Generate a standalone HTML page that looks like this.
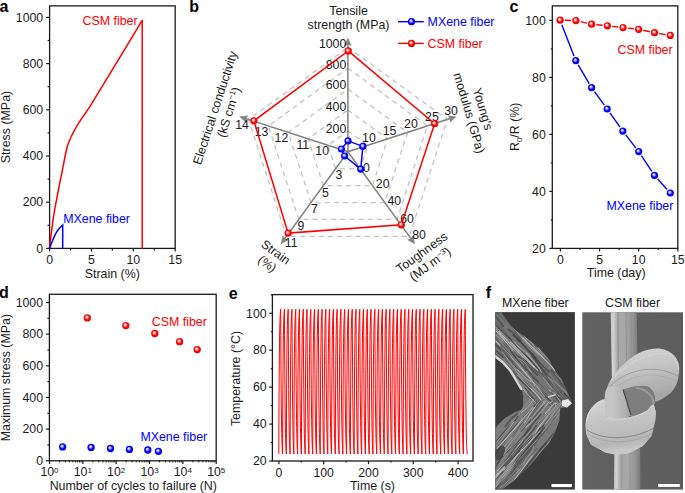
<!DOCTYPE html>
<html><head><meta charset="utf-8"><style>
html,body{margin:0;padding:0;background:#fff;}
svg{display:block;font-family:"Liberation Sans",sans-serif;}
</style></head><body>
<svg width="685" height="493" viewBox="0 0 685 493">
<defs>
<radialGradient id="gr" cx="0.5" cy="0.5" r="0.5" fx="0.38" fy="0.34">
<stop offset="0" stop-color="#ffffff"/><stop offset="0.3" stop-color="#ffbcbc"/><stop offset="0.6" stop-color="#ff0a0a"/><stop offset="0.9" stop-color="#f40000"/><stop offset="1" stop-color="#e00000"/></radialGradient>
<radialGradient id="gb" cx="0.5" cy="0.5" r="0.5" fx="0.38" fy="0.34">
<stop offset="0" stop-color="#f6f6ff"/><stop offset="0.3" stop-color="#b4b4ff"/><stop offset="0.6" stop-color="#0a0aff"/><stop offset="0.9" stop-color="#0000f4"/><stop offset="1" stop-color="#0000d0"/></radialGradient>
</defs>
<text x="-0.6" y="11.5" font-size="16" font-weight="bold" fill="#000">a</text>
<rect x="49.60" y="5.90" width="125.60" height="242.50" fill="none" stroke="#1a1a1a" stroke-width="1.3"/>
<line x1="46.10" y1="248.40" x2="49.60" y2="248.40" stroke="#1a1a1a" stroke-width="1.2" />
<text x="43.20" y="252.60" font-size="12.3" text-anchor="end" fill="#1a1a1a" >0</text>
<line x1="47.60" y1="225.30" x2="49.60" y2="225.30" stroke="#1a1a1a" stroke-width="1.2" />
<line x1="46.10" y1="202.20" x2="49.60" y2="202.20" stroke="#1a1a1a" stroke-width="1.2" />
<text x="43.20" y="206.40" font-size="12.3" text-anchor="end" fill="#1a1a1a" >200</text>
<line x1="47.60" y1="179.10" x2="49.60" y2="179.10" stroke="#1a1a1a" stroke-width="1.2" />
<line x1="46.10" y1="156.00" x2="49.60" y2="156.00" stroke="#1a1a1a" stroke-width="1.2" />
<text x="43.20" y="160.20" font-size="12.3" text-anchor="end" fill="#1a1a1a" >400</text>
<line x1="47.60" y1="132.90" x2="49.60" y2="132.90" stroke="#1a1a1a" stroke-width="1.2" />
<line x1="46.10" y1="109.80" x2="49.60" y2="109.80" stroke="#1a1a1a" stroke-width="1.2" />
<text x="43.20" y="114.00" font-size="12.3" text-anchor="end" fill="#1a1a1a" >600</text>
<line x1="47.60" y1="86.70" x2="49.60" y2="86.70" stroke="#1a1a1a" stroke-width="1.2" />
<line x1="46.10" y1="63.60" x2="49.60" y2="63.60" stroke="#1a1a1a" stroke-width="1.2" />
<text x="43.20" y="67.80" font-size="12.3" text-anchor="end" fill="#1a1a1a" >800</text>
<line x1="47.60" y1="40.50" x2="49.60" y2="40.50" stroke="#1a1a1a" stroke-width="1.2" />
<line x1="46.10" y1="17.40" x2="49.60" y2="17.40" stroke="#1a1a1a" stroke-width="1.2" />
<text x="43.20" y="21.60" font-size="12.3" text-anchor="end" fill="#1a1a1a" >1000</text>
<line x1="49.60" y1="248.40" x2="49.60" y2="251.60" stroke="#1a1a1a" stroke-width="1.2" />
<text x="49.60" y="263.60" font-size="12.3" text-anchor="middle" fill="#1a1a1a" >0</text>
<line x1="70.53" y1="248.40" x2="70.53" y2="250.40" stroke="#1a1a1a" stroke-width="1.2" />
<line x1="91.47" y1="248.40" x2="91.47" y2="251.60" stroke="#1a1a1a" stroke-width="1.2" />
<text x="91.47" y="263.60" font-size="12.3" text-anchor="middle" fill="#1a1a1a" >5</text>
<line x1="112.40" y1="248.40" x2="112.40" y2="250.40" stroke="#1a1a1a" stroke-width="1.2" />
<line x1="133.33" y1="248.40" x2="133.33" y2="251.60" stroke="#1a1a1a" stroke-width="1.2" />
<text x="133.33" y="263.60" font-size="12.3" text-anchor="middle" fill="#1a1a1a" >10</text>
<line x1="154.27" y1="248.40" x2="154.27" y2="250.40" stroke="#1a1a1a" stroke-width="1.2" />
<line x1="175.20" y1="248.40" x2="175.20" y2="251.60" stroke="#1a1a1a" stroke-width="1.2" />
<text x="175.20" y="263.60" font-size="12.3" text-anchor="middle" fill="#1a1a1a" >15</text>
<text x="112.30" y="277.90" font-size="12.4" text-anchor="middle" fill="#1a1a1a" >Strain (%)</text>
<text transform="translate(10.4,127) rotate(-90)" font-size="12.4" text-anchor="middle" fill="#1a1a1a">Stress (MPa)</text>
<path d="M49.50,248.40 C49.78,246.00 50.60,238.80 51.20,234.00 C51.80,229.20 52.43,224.13 53.10,219.60 C53.77,215.07 54.48,210.82 55.20,206.80 C55.92,202.78 56.68,199.28 57.40,195.50 C58.12,191.72 58.80,187.67 59.50,184.10 C60.20,180.53 60.90,177.57 61.60,174.10 C62.30,170.63 62.90,167.32 63.70,163.30 C64.50,159.28 65.60,153.37 66.40,150.00 C67.20,146.63 67.78,145.15 68.50,143.10 C69.22,141.05 69.93,139.42 70.70,137.70 C71.47,135.98 72.25,134.43 73.10,132.80 C73.95,131.17 74.93,129.42 75.80,127.90 C76.67,126.38 77.50,124.98 78.30,123.70 C79.10,122.42 79.58,121.72 80.60,120.20 C81.62,118.68 82.98,116.67 84.40,114.60 C85.82,112.53 87.58,110.13 89.10,107.80 C90.62,105.47 88.68,108.50 93.50,100.60 C98.32,92.70 109.88,73.78 118.00,60.40 C126.12,47.02 138.17,26.98 142.20,20.30 L142.2,248.4" fill="none" stroke="#ff0000" stroke-width="1.5" stroke-linejoin="round"/>
<path d="M49.60,248.40 C50.08,247.12 51.48,243.17 52.50,240.70 C53.52,238.23 54.62,235.60 55.70,233.60 C56.78,231.60 57.83,230.12 59.00,228.70 C60.17,227.28 62.08,225.70 62.70,225.10 L62.7,248.4" fill="none" stroke="#0000ff" stroke-width="1.5"/>
<text x="82.50" y="25.20" font-size="12.4" text-anchor="start" fill="#ff0000" >CSM fiber</text>
<text x="63.20" y="222.60" font-size="12.4" text-anchor="start" fill="#0000ff" >MXene fiber</text>
<text x="189.2" y="11.5" font-size="16" font-weight="bold" fill="#000">b</text>
<polygon points="347.90,130.90 367.78,145.34 360.18,168.71 335.62,168.71 328.02,145.34" fill="none" stroke="#c2c2c2" stroke-width="1.3" stroke-dasharray="5,4.2"/>
<polygon points="347.90,110.00 387.65,138.88 372.47,185.62 323.33,185.62 308.15,138.88" fill="none" stroke="#c2c2c2" stroke-width="1.3" stroke-dasharray="5,4.2"/>
<polygon points="347.90,89.10 407.53,132.42 384.75,202.53 311.05,202.53 288.27,132.42" fill="none" stroke="#c2c2c2" stroke-width="1.3" stroke-dasharray="5,4.2"/>
<polygon points="347.90,68.20 427.41,125.97 397.04,219.43 298.76,219.43 268.39,125.97" fill="none" stroke="#c2c2c2" stroke-width="1.3" stroke-dasharray="5,4.2"/>
<polygon points="347.90,47.30 447.29,119.51 409.32,236.34 286.48,236.34 248.51,119.51" fill="none" stroke="#c2c2c2" stroke-width="1.3" stroke-dasharray="5,4.2"/>
<line x1="347.90" y1="151.80" x2="347.90" y2="41.03" stroke="#808080" stroke-width="1.5" />
<polygon points="347.90,37.58 351.70,45.88 347.90,44.68 344.10,45.88" fill="#858585"/>
<line x1="347.90" y1="151.80" x2="453.25" y2="117.57" stroke="#808080" stroke-width="1.5" />
<polygon points="456.53,116.50 449.81,122.68 449.78,118.70 447.46,115.46" fill="#858585"/>
<line x1="347.90" y1="151.80" x2="413.01" y2="241.41" stroke="#808080" stroke-width="1.5" />
<polygon points="415.04,244.20 407.08,239.72 410.86,238.46 413.23,235.26" fill="#858585"/>
<line x1="347.90" y1="151.80" x2="282.79" y2="241.41" stroke="#808080" stroke-width="1.5" />
<polygon points="280.76,244.20 282.57,235.26 284.94,238.46 288.72,239.72" fill="#858585"/>
<line x1="347.90" y1="151.80" x2="242.55" y2="117.57" stroke="#808080" stroke-width="1.5" />
<polygon points="239.27,116.50 248.34,115.46 246.02,118.70 245.99,122.68" fill="#858585"/>
<text x="346.30" y="48.10" font-size="12.3" text-anchor="end" fill="#1a1a1a" >1000</text>
<text x="346.30" y="68.50" font-size="12.3" text-anchor="end" fill="#1a1a1a" >800</text>
<text x="346.30" y="89.30" font-size="12.3" text-anchor="end" fill="#1a1a1a" >600</text>
<text x="346.30" y="111.00" font-size="12.3" text-anchor="end" fill="#1a1a1a" >400</text>
<text x="346.30" y="132.60" font-size="12.3" text-anchor="end" fill="#1a1a1a" >200</text>
<text x="368.90" y="141.80" font-size="12.3" text-anchor="middle" fill="#1a1a1a" >10</text>
<text x="389.50" y="135.20" font-size="12.3" text-anchor="middle" fill="#1a1a1a" >15</text>
<text x="410.90" y="128.00" font-size="12.3" text-anchor="middle" fill="#1a1a1a" >20</text>
<text x="431.90" y="121.40" font-size="12.3" text-anchor="middle" fill="#1a1a1a" >25</text>
<text x="451.00" y="115.40" font-size="12.3" text-anchor="middle" fill="#1a1a1a" >30</text>
<text x="366.40" y="171.70" font-size="12.3" text-anchor="middle" fill="#1a1a1a" >0</text>
<text x="382.70" y="188.10" font-size="12.3" text-anchor="middle" fill="#1a1a1a" >20</text>
<text x="394.30" y="205.20" font-size="12.3" text-anchor="middle" fill="#1a1a1a" >40</text>
<text x="407.10" y="222.90" font-size="12.3" text-anchor="middle" fill="#1a1a1a" >60</text>
<text x="419.00" y="238.60" font-size="12.3" text-anchor="middle" fill="#1a1a1a" >80</text>
<text x="339.00" y="179.20" font-size="12.3" text-anchor="middle" fill="#1a1a1a" >3</text>
<text x="325.50" y="196.80" font-size="12.3" text-anchor="middle" fill="#1a1a1a" >5</text>
<text x="314.30" y="213.20" font-size="12.3" text-anchor="middle" fill="#1a1a1a" >7</text>
<text x="301.00" y="229.80" font-size="12.3" text-anchor="middle" fill="#1a1a1a" >9</text>
<text x="291.20" y="247.20" font-size="12.3" text-anchor="middle" fill="#1a1a1a" >11</text>
<text x="322.20" y="155.40" font-size="12.3" text-anchor="middle" fill="#1a1a1a" >10</text>
<text x="302.80" y="148.60" font-size="12.3" text-anchor="middle" fill="#1a1a1a" >11</text>
<text x="281.40" y="142.00" font-size="12.3" text-anchor="middle" fill="#1a1a1a" >12</text>
<text x="261.50" y="135.50" font-size="12.3" text-anchor="middle" fill="#1a1a1a" >13</text>
<text x="242.00" y="128.70" font-size="12.3" text-anchor="middle" fill="#1a1a1a" >14</text>
<text x="348.50" y="14.90" font-size="12.4" text-anchor="middle" fill="#1a1a1a" >Tensile</text>
<text x="348.50" y="29.20" font-size="12.4" text-anchor="middle" fill="#1a1a1a" >strength (MPa)</text>
<g transform="translate(476,111) rotate(73.5)" font-size="12.4" fill="#1a1a1a" text-anchor="middle"><text x="0" y="-3">Young's</text><text x="0" y="11.3">modulus (GPa)</text></g>
<g transform="translate(222,110) rotate(-72)" font-size="12.4" fill="#1a1a1a" text-anchor="middle"><text x="0" y="-3">Electrical conductivity</text><text x="0" y="11.3">(kS cm<tspan font-size="8" dy="-4">&#8722;1</tspan><tspan dy="4">)</tspan></text></g>
<g transform="translate(426,258.3) rotate(-36)" font-size="12.4" fill="#1a1a1a" text-anchor="middle"><text x="0" y="-3">Toughness</text><text x="0" y="11.3">(MJ m<tspan font-size="8" dy="-4">&#8722;3</tspan><tspan dy="4">)</tspan></text></g>
<g transform="translate(271.5,258) rotate(36)" font-size="12.4" fill="#1a1a1a" text-anchor="middle"><text x="0" y="-3">Strain</text><text x="0" y="11.3">(%)</text></g>
<polygon points="348.2,50.9 434.6,123.7 401.3,224.8 288.1,233.1 253.9,120.8" fill="none" stroke="#ff0000" stroke-width="1.5"/>
<polygon points="348,140.9 362.9,146.4 360.7,169.1 344.6,156 341.4,149" fill="none" stroke="#0000ff" stroke-width="1.5"/>
<circle cx="348.20" cy="50.90" r="3.6" fill="url(#gr)"/>
<circle cx="434.60" cy="123.70" r="3.6" fill="url(#gr)"/>
<circle cx="401.30" cy="224.80" r="3.6" fill="url(#gr)"/>
<circle cx="288.10" cy="233.10" r="3.6" fill="url(#gr)"/>
<circle cx="253.90" cy="120.80" r="3.6" fill="url(#gr)"/>
<circle cx="348.00" cy="140.90" r="3.6" fill="url(#gb)"/>
<circle cx="362.90" cy="146.40" r="3.6" fill="url(#gb)"/>
<circle cx="360.70" cy="169.10" r="3.6" fill="url(#gb)"/>
<circle cx="344.60" cy="156.00" r="3.6" fill="url(#gb)"/>
<circle cx="341.40" cy="149.00" r="3.6" fill="url(#gb)"/>
<line x1="398.00" y1="21.70" x2="423.80" y2="21.70" stroke="#0000ff" stroke-width="1.4" />
<circle cx="411.50" cy="21.70" r="3.6" fill="url(#gb)"/>
<text x="427.60" y="25.90" font-size="12.4" text-anchor="start" fill="#0000ff" >MXene fiber</text>
<line x1="398.00" y1="43.40" x2="423.80" y2="43.40" stroke="#ff0000" stroke-width="1.4" />
<circle cx="411.50" cy="43.40" r="3.6" fill="url(#gr)"/>
<text x="427.60" y="47.60" font-size="12.4" text-anchor="start" fill="#ff0000" >CSM fiber</text>
<text x="509.5" y="12.4" font-size="16" font-weight="bold" fill="#000">c</text>
<rect x="552.30" y="5.90" width="125.50" height="242.50" fill="none" stroke="#1a1a1a" stroke-width="1.3"/>
<line x1="549.30" y1="248.40" x2="552.30" y2="248.40" stroke="#1a1a1a" stroke-width="1.2" />
<text x="545.80" y="252.60" font-size="12.3" text-anchor="end" fill="#1a1a1a" >20</text>
<line x1="550.80" y1="219.90" x2="552.30" y2="219.90" stroke="#1a1a1a" stroke-width="1.2" />
<line x1="549.30" y1="191.40" x2="552.30" y2="191.40" stroke="#1a1a1a" stroke-width="1.2" />
<text x="545.80" y="195.60" font-size="12.3" text-anchor="end" fill="#1a1a1a" >40</text>
<line x1="550.80" y1="162.90" x2="552.30" y2="162.90" stroke="#1a1a1a" stroke-width="1.2" />
<line x1="549.30" y1="134.40" x2="552.30" y2="134.40" stroke="#1a1a1a" stroke-width="1.2" />
<text x="545.80" y="138.60" font-size="12.3" text-anchor="end" fill="#1a1a1a" >60</text>
<line x1="550.80" y1="105.90" x2="552.30" y2="105.90" stroke="#1a1a1a" stroke-width="1.2" />
<line x1="549.30" y1="77.40" x2="552.30" y2="77.40" stroke="#1a1a1a" stroke-width="1.2" />
<text x="545.80" y="81.60" font-size="12.3" text-anchor="end" fill="#1a1a1a" >80</text>
<line x1="550.80" y1="48.90" x2="552.30" y2="48.90" stroke="#1a1a1a" stroke-width="1.2" />
<line x1="549.30" y1="20.40" x2="552.30" y2="20.40" stroke="#1a1a1a" stroke-width="1.2" />
<text x="545.80" y="24.60" font-size="12.3" text-anchor="end" fill="#1a1a1a" >100</text>
<line x1="560.40" y1="248.40" x2="560.40" y2="251.40" stroke="#1a1a1a" stroke-width="1.2" />
<text x="560.40" y="264.00" font-size="12.3" text-anchor="middle" fill="#1a1a1a" >0</text>
<line x1="579.98" y1="248.40" x2="579.98" y2="249.90" stroke="#1a1a1a" stroke-width="1.2" />
<line x1="599.55" y1="248.40" x2="599.55" y2="251.40" stroke="#1a1a1a" stroke-width="1.2" />
<text x="599.55" y="264.00" font-size="12.3" text-anchor="middle" fill="#1a1a1a" >5</text>
<line x1="619.12" y1="248.40" x2="619.12" y2="249.90" stroke="#1a1a1a" stroke-width="1.2" />
<line x1="638.70" y1="248.40" x2="638.70" y2="251.40" stroke="#1a1a1a" stroke-width="1.2" />
<text x="638.70" y="264.00" font-size="12.3" text-anchor="middle" fill="#1a1a1a" >10</text>
<line x1="658.27" y1="248.40" x2="658.27" y2="249.90" stroke="#1a1a1a" stroke-width="1.2" />
<line x1="677.85" y1="248.40" x2="677.85" y2="251.40" stroke="#1a1a1a" stroke-width="1.2" />
<text x="677.85" y="264.00" font-size="12.3" text-anchor="middle" fill="#1a1a1a" >15</text>
<text x="616.20" y="277.30" font-size="12.4" text-anchor="middle" fill="#1a1a1a" >Time (day)</text>
<text transform="translate(519.0,126.8) rotate(-90)" font-size="12.4" text-anchor="middle" fill="#1a1a1a">R<tspan font-size="8" dy="2.5">0</tspan><tspan dy="-2.5">/R (%)</tspan></text>
<line x1="561.83" y1="24.68" x2="574.07" y2="56.22" stroke="#0000ff" stroke-width="1.4" />
<line x1="578.22" y1="64.84" x2="589.18" y2="83.56" stroke="#0000ff" stroke-width="1.4" />
<line x1="594.44" y1="91.57" x2="604.36" y2="105.13" stroke="#0000ff" stroke-width="1.4" />
<line x1="609.97" y1="112.92" x2="620.03" y2="127.18" stroke="#0000ff" stroke-width="1.4" />
<line x1="625.74" y1="134.89" x2="635.76" y2="147.81" stroke="#0000ff" stroke-width="1.4" />
<line x1="641.35" y1="155.60" x2="651.85" y2="171.40" stroke="#0000ff" stroke-width="1.4" />
<line x1="657.71" y1="178.97" x2="667.09" y2="189.43" stroke="#0000ff" stroke-width="1.4" />
<circle cx="575.80" cy="60.70" r="3.6" fill="url(#gb)"/>
<circle cx="591.60" cy="87.70" r="3.6" fill="url(#gb)"/>
<circle cx="607.20" cy="109.00" r="3.6" fill="url(#gb)"/>
<circle cx="622.80" cy="131.10" r="3.6" fill="url(#gb)"/>
<circle cx="638.70" cy="151.60" r="3.6" fill="url(#gb)"/>
<circle cx="654.50" cy="175.40" r="3.6" fill="url(#gb)"/>
<circle cx="670.30" cy="193.00" r="3.6" fill="url(#gb)"/>
<line x1="564.90" y1="20.32" x2="571.10" y2="20.48" stroke="#ff0000" stroke-width="1.4" />
<line x1="580.58" y1="21.67" x2="586.92" y2="23.13" stroke="#ff0000" stroke-width="1.4" />
<line x1="596.38" y1="24.68" x2="602.62" y2="25.32" stroke="#ff0000" stroke-width="1.4" />
<line x1="612.17" y1="26.35" x2="618.23" y2="27.05" stroke="#ff0000" stroke-width="1.4" />
<line x1="627.77" y1="28.12" x2="633.83" y2="28.78" stroke="#ff0000" stroke-width="1.4" />
<line x1="643.29" y1="30.30" x2="649.81" y2="31.70" stroke="#ff0000" stroke-width="1.4" />
<line x1="659.23" y1="33.51" x2="665.57" y2="34.59" stroke="#ff0000" stroke-width="1.4" />
<circle cx="560.10" cy="20.20" r="3.6" fill="url(#gr)"/>
<circle cx="575.90" cy="20.60" r="3.6" fill="url(#gr)"/>
<circle cx="591.60" cy="24.20" r="3.6" fill="url(#gr)"/>
<circle cx="607.40" cy="25.80" r="3.6" fill="url(#gr)"/>
<circle cx="623.00" cy="27.60" r="3.6" fill="url(#gr)"/>
<circle cx="638.60" cy="29.30" r="3.6" fill="url(#gr)"/>
<circle cx="654.50" cy="32.70" r="3.6" fill="url(#gr)"/>
<circle cx="670.30" cy="35.40" r="3.6" fill="url(#gr)"/>
<text x="617.50" y="53.60" font-size="12.4" text-anchor="start" fill="#ff0000" >CSM fiber</text>
<text x="606.50" y="209.50" font-size="12.4" text-anchor="start" fill="#0000ff" >MXene fiber</text>
<text x="-0.9" y="297.8" font-size="16" font-weight="bold" fill="#000">d</text>
<rect x="49.40" y="294.30" width="166.80" height="166.50" fill="none" stroke="#1a1a1a" stroke-width="1.3"/>
<line x1="45.90" y1="460.80" x2="49.40" y2="460.80" stroke="#1a1a1a" stroke-width="1.2" />
<text x="43.00" y="465.00" font-size="12.3" text-anchor="end" fill="#1a1a1a" >0</text>
<line x1="47.40" y1="444.97" x2="49.40" y2="444.97" stroke="#1a1a1a" stroke-width="1.2" />
<line x1="45.90" y1="429.14" x2="49.40" y2="429.14" stroke="#1a1a1a" stroke-width="1.2" />
<text x="43.00" y="433.34" font-size="12.3" text-anchor="end" fill="#1a1a1a" >200</text>
<line x1="47.40" y1="413.31" x2="49.40" y2="413.31" stroke="#1a1a1a" stroke-width="1.2" />
<line x1="45.90" y1="397.48" x2="49.40" y2="397.48" stroke="#1a1a1a" stroke-width="1.2" />
<text x="43.00" y="401.68" font-size="12.3" text-anchor="end" fill="#1a1a1a" >400</text>
<line x1="47.40" y1="381.65" x2="49.40" y2="381.65" stroke="#1a1a1a" stroke-width="1.2" />
<line x1="45.90" y1="365.82" x2="49.40" y2="365.82" stroke="#1a1a1a" stroke-width="1.2" />
<text x="43.00" y="370.02" font-size="12.3" text-anchor="end" fill="#1a1a1a" >600</text>
<line x1="47.40" y1="349.99" x2="49.40" y2="349.99" stroke="#1a1a1a" stroke-width="1.2" />
<line x1="45.90" y1="334.16" x2="49.40" y2="334.16" stroke="#1a1a1a" stroke-width="1.2" />
<text x="43.00" y="338.36" font-size="12.3" text-anchor="end" fill="#1a1a1a" >800</text>
<line x1="47.40" y1="318.33" x2="49.40" y2="318.33" stroke="#1a1a1a" stroke-width="1.2" />
<line x1="45.90" y1="302.50" x2="49.40" y2="302.50" stroke="#1a1a1a" stroke-width="1.2" />
<text x="43.00" y="306.70" font-size="12.3" text-anchor="end" fill="#1a1a1a" >1000</text>
<line x1="49.50" y1="460.80" x2="49.50" y2="464.00" stroke="#1a1a1a" stroke-width="1.2" />
<text x="49.50" y="476.4" font-size="12.3" text-anchor="middle" fill="#1a1a1a">10<tspan font-size="8" dy="-3.8">0</tspan></text>
<line x1="59.54" y1="460.80" x2="59.54" y2="462.40" stroke="#1a1a1a" stroke-width="1" />
<line x1="65.41" y1="460.80" x2="65.41" y2="462.40" stroke="#1a1a1a" stroke-width="1" />
<line x1="69.57" y1="460.80" x2="69.57" y2="462.40" stroke="#1a1a1a" stroke-width="1" />
<line x1="72.80" y1="460.80" x2="72.80" y2="462.40" stroke="#1a1a1a" stroke-width="1" />
<line x1="75.44" y1="460.80" x2="75.44" y2="462.40" stroke="#1a1a1a" stroke-width="1" />
<line x1="77.68" y1="460.80" x2="77.68" y2="462.40" stroke="#1a1a1a" stroke-width="1" />
<line x1="79.61" y1="460.80" x2="79.61" y2="462.40" stroke="#1a1a1a" stroke-width="1" />
<line x1="81.31" y1="460.80" x2="81.31" y2="462.40" stroke="#1a1a1a" stroke-width="1" />
<line x1="82.84" y1="460.80" x2="82.84" y2="464.00" stroke="#1a1a1a" stroke-width="1.2" />
<text x="82.84" y="476.4" font-size="12.3" text-anchor="middle" fill="#1a1a1a">10<tspan font-size="8" dy="-3.8">1</tspan></text>
<line x1="92.88" y1="460.80" x2="92.88" y2="462.40" stroke="#1a1a1a" stroke-width="1" />
<line x1="98.75" y1="460.80" x2="98.75" y2="462.40" stroke="#1a1a1a" stroke-width="1" />
<line x1="102.91" y1="460.80" x2="102.91" y2="462.40" stroke="#1a1a1a" stroke-width="1" />
<line x1="106.14" y1="460.80" x2="106.14" y2="462.40" stroke="#1a1a1a" stroke-width="1" />
<line x1="108.78" y1="460.80" x2="108.78" y2="462.40" stroke="#1a1a1a" stroke-width="1" />
<line x1="111.02" y1="460.80" x2="111.02" y2="462.40" stroke="#1a1a1a" stroke-width="1" />
<line x1="112.95" y1="460.80" x2="112.95" y2="462.40" stroke="#1a1a1a" stroke-width="1" />
<line x1="114.65" y1="460.80" x2="114.65" y2="462.40" stroke="#1a1a1a" stroke-width="1" />
<line x1="116.18" y1="460.80" x2="116.18" y2="464.00" stroke="#1a1a1a" stroke-width="1.2" />
<text x="116.18" y="476.4" font-size="12.3" text-anchor="middle" fill="#1a1a1a">10<tspan font-size="8" dy="-3.8">2</tspan></text>
<line x1="126.22" y1="460.80" x2="126.22" y2="462.40" stroke="#1a1a1a" stroke-width="1" />
<line x1="132.09" y1="460.80" x2="132.09" y2="462.40" stroke="#1a1a1a" stroke-width="1" />
<line x1="136.25" y1="460.80" x2="136.25" y2="462.40" stroke="#1a1a1a" stroke-width="1" />
<line x1="139.48" y1="460.80" x2="139.48" y2="462.40" stroke="#1a1a1a" stroke-width="1" />
<line x1="142.12" y1="460.80" x2="142.12" y2="462.40" stroke="#1a1a1a" stroke-width="1" />
<line x1="144.36" y1="460.80" x2="144.36" y2="462.40" stroke="#1a1a1a" stroke-width="1" />
<line x1="146.29" y1="460.80" x2="146.29" y2="462.40" stroke="#1a1a1a" stroke-width="1" />
<line x1="147.99" y1="460.80" x2="147.99" y2="462.40" stroke="#1a1a1a" stroke-width="1" />
<line x1="149.52" y1="460.80" x2="149.52" y2="464.00" stroke="#1a1a1a" stroke-width="1.2" />
<text x="149.52" y="476.4" font-size="12.3" text-anchor="middle" fill="#1a1a1a">10<tspan font-size="8" dy="-3.8">3</tspan></text>
<line x1="159.56" y1="460.80" x2="159.56" y2="462.40" stroke="#1a1a1a" stroke-width="1" />
<line x1="165.43" y1="460.80" x2="165.43" y2="462.40" stroke="#1a1a1a" stroke-width="1" />
<line x1="169.59" y1="460.80" x2="169.59" y2="462.40" stroke="#1a1a1a" stroke-width="1" />
<line x1="172.82" y1="460.80" x2="172.82" y2="462.40" stroke="#1a1a1a" stroke-width="1" />
<line x1="175.46" y1="460.80" x2="175.46" y2="462.40" stroke="#1a1a1a" stroke-width="1" />
<line x1="177.70" y1="460.80" x2="177.70" y2="462.40" stroke="#1a1a1a" stroke-width="1" />
<line x1="179.63" y1="460.80" x2="179.63" y2="462.40" stroke="#1a1a1a" stroke-width="1" />
<line x1="181.33" y1="460.80" x2="181.33" y2="462.40" stroke="#1a1a1a" stroke-width="1" />
<line x1="182.86" y1="460.80" x2="182.86" y2="464.00" stroke="#1a1a1a" stroke-width="1.2" />
<text x="182.86" y="476.4" font-size="12.3" text-anchor="middle" fill="#1a1a1a">10<tspan font-size="8" dy="-3.8">4</tspan></text>
<line x1="192.90" y1="460.80" x2="192.90" y2="462.40" stroke="#1a1a1a" stroke-width="1" />
<line x1="198.77" y1="460.80" x2="198.77" y2="462.40" stroke="#1a1a1a" stroke-width="1" />
<line x1="202.93" y1="460.80" x2="202.93" y2="462.40" stroke="#1a1a1a" stroke-width="1" />
<line x1="206.16" y1="460.80" x2="206.16" y2="462.40" stroke="#1a1a1a" stroke-width="1" />
<line x1="208.80" y1="460.80" x2="208.80" y2="462.40" stroke="#1a1a1a" stroke-width="1" />
<line x1="211.04" y1="460.80" x2="211.04" y2="462.40" stroke="#1a1a1a" stroke-width="1" />
<line x1="212.97" y1="460.80" x2="212.97" y2="462.40" stroke="#1a1a1a" stroke-width="1" />
<line x1="214.67" y1="460.80" x2="214.67" y2="462.40" stroke="#1a1a1a" stroke-width="1" />
<line x1="216.20" y1="460.80" x2="216.20" y2="464.00" stroke="#1a1a1a" stroke-width="1.2" />
<text x="216.20" y="476.4" font-size="12.3" text-anchor="middle" fill="#1a1a1a">10<tspan font-size="8" dy="-3.8">5</tspan></text>
<text x="133.30" y="490.20" font-size="12.4" text-anchor="middle" fill="#1a1a1a" >Number of cycles to failure (N)</text>
<text transform="translate(9.9,377.6) rotate(-90)" font-size="12.4" text-anchor="middle" fill="#1a1a1a">Maximum stress (MPa)</text>
<circle cx="87.30" cy="317.90" r="3.65" fill="url(#gr)"/>
<circle cx="125.80" cy="325.60" r="3.65" fill="url(#gr)"/>
<circle cx="154.80" cy="333.50" r="3.65" fill="url(#gr)"/>
<circle cx="179.60" cy="341.70" r="3.65" fill="url(#gr)"/>
<circle cx="197.20" cy="349.60" r="3.65" fill="url(#gr)"/>
<circle cx="62.60" cy="446.90" r="3.65" fill="url(#gb)"/>
<circle cx="91.10" cy="447.50" r="3.65" fill="url(#gb)"/>
<circle cx="110.50" cy="448.50" r="3.65" fill="url(#gb)"/>
<circle cx="129.40" cy="449.40" r="3.65" fill="url(#gb)"/>
<circle cx="147.80" cy="450.00" r="3.65" fill="url(#gb)"/>
<circle cx="158.40" cy="451.30" r="3.65" fill="url(#gb)"/>
<text x="151.80" y="326.00" font-size="12.4" text-anchor="start" fill="#ff0000" >CSM fiber</text>
<text x="140.40" y="440.50" font-size="12.4" text-anchor="start" fill="#0000ff" >MXene fiber</text>
<text x="228.8" y="298.9" font-size="16" font-weight="bold" fill="#000">e</text>
<rect x="272.40" y="294.60" width="200.60" height="166.40" fill="none" stroke="#1a1a1a" stroke-width="1.3"/>
<line x1="269.20" y1="461.00" x2="272.40" y2="461.00" stroke="#1a1a1a" stroke-width="1.2" />
<text x="266.60" y="465.20" font-size="12.3" text-anchor="end" fill="#1a1a1a" >20</text>
<line x1="270.80" y1="442.54" x2="272.40" y2="442.54" stroke="#1a1a1a" stroke-width="1.2" />
<line x1="269.20" y1="424.08" x2="272.40" y2="424.08" stroke="#1a1a1a" stroke-width="1.2" />
<text x="266.60" y="428.28" font-size="12.3" text-anchor="end" fill="#1a1a1a" >40</text>
<line x1="270.80" y1="405.62" x2="272.40" y2="405.62" stroke="#1a1a1a" stroke-width="1.2" />
<line x1="269.20" y1="387.16" x2="272.40" y2="387.16" stroke="#1a1a1a" stroke-width="1.2" />
<text x="266.60" y="391.36" font-size="12.3" text-anchor="end" fill="#1a1a1a" >60</text>
<line x1="270.80" y1="368.70" x2="272.40" y2="368.70" stroke="#1a1a1a" stroke-width="1.2" />
<line x1="269.20" y1="350.24" x2="272.40" y2="350.24" stroke="#1a1a1a" stroke-width="1.2" />
<text x="266.60" y="354.44" font-size="12.3" text-anchor="end" fill="#1a1a1a" >80</text>
<line x1="270.80" y1="331.78" x2="272.40" y2="331.78" stroke="#1a1a1a" stroke-width="1.2" />
<line x1="269.20" y1="313.32" x2="272.40" y2="313.32" stroke="#1a1a1a" stroke-width="1.2" />
<text x="266.60" y="317.52" font-size="12.3" text-anchor="end" fill="#1a1a1a" >100</text>
<line x1="270.80" y1="294.86" x2="272.40" y2="294.86" stroke="#1a1a1a" stroke-width="1.2" />
<line x1="278.90" y1="461.00" x2="278.90" y2="464.20" stroke="#1a1a1a" stroke-width="1.2" />
<text x="278.90" y="476.70" font-size="12.3" text-anchor="middle" fill="#1a1a1a" >0</text>
<line x1="301.30" y1="461.00" x2="301.30" y2="462.60" stroke="#1a1a1a" stroke-width="1.2" />
<line x1="323.70" y1="461.00" x2="323.70" y2="464.20" stroke="#1a1a1a" stroke-width="1.2" />
<text x="323.70" y="476.70" font-size="12.3" text-anchor="middle" fill="#1a1a1a" >100</text>
<line x1="346.10" y1="461.00" x2="346.10" y2="462.60" stroke="#1a1a1a" stroke-width="1.2" />
<line x1="368.50" y1="461.00" x2="368.50" y2="464.20" stroke="#1a1a1a" stroke-width="1.2" />
<text x="368.50" y="476.70" font-size="12.3" text-anchor="middle" fill="#1a1a1a" >200</text>
<line x1="390.90" y1="461.00" x2="390.90" y2="462.60" stroke="#1a1a1a" stroke-width="1.2" />
<line x1="413.30" y1="461.00" x2="413.30" y2="464.20" stroke="#1a1a1a" stroke-width="1.2" />
<text x="413.30" y="476.70" font-size="12.3" text-anchor="middle" fill="#1a1a1a" >300</text>
<line x1="435.70" y1="461.00" x2="435.70" y2="462.60" stroke="#1a1a1a" stroke-width="1.2" />
<line x1="458.10" y1="461.00" x2="458.10" y2="464.20" stroke="#1a1a1a" stroke-width="1.2" />
<text x="458.10" y="476.70" font-size="12.3" text-anchor="middle" fill="#1a1a1a" >400</text>
<text x="372.50" y="489.50" font-size="12.4" text-anchor="middle" fill="#1a1a1a" >Time (s)</text>
<text transform="translate(240,378.5) rotate(-90)" font-size="12.4" text-anchor="middle" fill="#1a1a1a">Temperature (°C)</text>
<path d="M278.80,454.00 L278.92,424.03 L279.04,400.09 L279.15,380.98 L279.27,365.72 L279.39,353.53 L279.51,343.80 L279.62,336.03 L279.74,329.83 L279.86,324.87 L279.98,320.91 L280.09,317.76 L280.21,315.23 L280.33,313.22 L280.45,311.61 L280.57,310.33 L280.68,309.30 L280.80,335.34 L280.92,356.92 L281.04,374.81 L281.15,389.65 L281.27,401.95 L281.39,412.14 L281.51,420.60 L281.63,427.60 L281.74,433.41 L281.86,438.23 L281.98,442.22 L282.10,445.53 L282.21,448.28 L282.33,450.55 L282.45,452.44 L282.57,454.00 L282.68,424.03 L282.80,400.09 L282.92,380.98 L283.04,365.72 L283.16,353.53 L283.27,343.80 L283.39,336.03 L283.51,329.83 L283.63,324.87 L283.74,320.91 L283.86,317.76 L283.98,315.23 L284.10,313.22 L284.22,311.61 L284.33,310.33 L284.45,309.30 L284.57,335.34 L284.69,356.92 L284.80,374.81 L284.92,389.65 L285.04,401.95 L285.16,412.14 L285.27,420.60 L285.39,427.60 L285.51,433.41 L285.63,438.23 L285.75,442.22 L285.86,445.53 L285.98,448.28 L286.10,450.55 L286.22,452.44 L286.33,454.00 L286.45,424.03 L286.57,400.09 L286.69,380.98 L286.80,365.72 L286.92,353.53 L287.04,343.80 L287.16,336.03 L287.28,329.83 L287.39,324.87 L287.51,320.91 L287.63,317.76 L287.75,315.23 L287.86,313.22 L287.98,311.61 L288.10,310.33 L288.22,309.30 L288.34,335.34 L288.45,356.92 L288.57,374.81 L288.69,389.65 L288.81,401.95 L288.92,412.14 L289.04,420.60 L289.16,427.60 L289.28,433.41 L289.39,438.23 L289.51,442.22 L289.63,445.53 L289.75,448.28 L289.87,450.55 L289.98,452.44 L290.10,454.00 L290.22,424.03 L290.34,400.09 L290.45,380.98 L290.57,365.72 L290.69,353.53 L290.81,343.80 L290.93,336.03 L291.04,329.83 L291.16,324.87 L291.28,320.91 L291.40,317.76 L291.51,315.23 L291.63,313.22 L291.75,311.61 L291.87,310.33 L291.98,309.30 L292.10,335.34 L292.22,356.92 L292.34,374.81 L292.46,389.65 L292.57,401.95 L292.69,412.14 L292.81,420.60 L292.93,427.60 L293.04,433.41 L293.16,438.23 L293.28,442.22 L293.40,445.53 L293.51,448.28 L293.63,450.55 L293.75,452.44 L293.87,454.00 L293.99,424.03 L294.10,400.09 L294.22,380.98 L294.34,365.72 L294.46,353.53 L294.57,343.80 L294.69,336.03 L294.81,329.83 L294.93,324.87 L295.05,320.91 L295.16,317.76 L295.28,315.23 L295.40,313.22 L295.52,311.61 L295.63,310.33 L295.75,309.30 L295.87,335.34 L295.99,356.92 L296.10,374.81 L296.22,389.65 L296.34,401.95 L296.46,412.14 L296.58,420.60 L296.69,427.60 L296.81,433.41 L296.93,438.23 L297.05,442.22 L297.16,445.53 L297.28,448.28 L297.40,450.55 L297.52,452.44 L297.63,454.00 L297.75,424.03 L297.87,400.09 L297.99,380.98 L298.11,365.72 L298.22,353.53 L298.34,343.80 L298.46,336.03 L298.58,329.83 L298.69,324.87 L298.81,320.91 L298.93,317.76 L299.05,315.23 L299.17,313.22 L299.28,311.61 L299.40,310.33 L299.52,309.30 L299.64,335.34 L299.75,356.92 L299.87,374.81 L299.99,389.65 L300.11,401.95 L300.22,412.14 L300.34,420.60 L300.46,427.60 L300.58,433.41 L300.70,438.23 L300.81,442.22 L300.93,445.53 L301.05,448.28 L301.17,450.55 L301.28,452.44 L301.40,454.00 L301.52,424.03 L301.64,400.09 L301.76,380.98 L301.87,365.72 L301.99,353.53 L302.11,343.80 L302.23,336.03 L302.34,329.83 L302.46,324.87 L302.58,320.91 L302.70,317.76 L302.81,315.23 L302.93,313.22 L303.05,311.61 L303.17,310.33 L303.29,309.30 L303.40,335.34 L303.52,356.92 L303.64,374.81 L303.76,389.65 L303.87,401.95 L303.99,412.14 L304.11,420.60 L304.23,427.60 L304.34,433.41 L304.46,438.23 L304.58,442.22 L304.70,445.53 L304.82,448.28 L304.93,450.55 L305.05,452.44 L305.17,454.00 L305.29,424.03 L305.40,400.09 L305.52,380.98 L305.64,365.72 L305.76,353.53 L305.88,343.80 L305.99,336.03 L306.11,329.83 L306.23,324.87 L306.35,320.91 L306.46,317.76 L306.58,315.23 L306.70,313.22 L306.82,311.61 L306.93,310.33 L307.05,309.30 L307.17,335.34 L307.29,356.92 L307.41,374.81 L307.52,389.65 L307.64,401.95 L307.76,412.14 L307.88,420.60 L307.99,427.60 L308.11,433.41 L308.23,438.23 L308.35,442.22 L308.47,445.53 L308.58,448.28 L308.70,450.55 L308.82,452.44 L308.94,454.00 L309.05,424.03 L309.17,400.09 L309.29,380.98 L309.41,365.72 L309.52,353.53 L309.64,343.80 L309.76,336.03 L309.88,329.83 L310.00,324.87 L310.11,320.91 L310.23,317.76 L310.35,315.23 L310.47,313.22 L310.58,311.61 L310.70,310.33 L310.82,309.30 L310.94,335.34 L311.05,356.92 L311.17,374.81 L311.29,389.65 L311.41,401.95 L311.53,412.14 L311.64,420.60 L311.76,427.60 L311.88,433.41 L312.00,438.23 L312.11,442.22 L312.23,445.53 L312.35,448.28 L312.47,450.55 L312.59,452.44 L312.70,454.00 L312.82,424.03 L312.94,400.09 L313.06,380.98 L313.17,365.72 L313.29,353.53 L313.41,343.80 L313.53,336.03 L313.64,329.83 L313.76,324.87 L313.88,320.91 L314.00,317.76 L314.12,315.23 L314.23,313.22 L314.35,311.61 L314.47,310.33 L314.59,309.30 L314.70,335.34 L314.82,356.92 L314.94,374.81 L315.06,389.65 L315.18,401.95 L315.29,412.14 L315.41,420.60 L315.53,427.60 L315.65,433.41 L315.76,438.23 L315.88,442.22 L316.00,445.53 L316.12,448.28 L316.23,450.55 L316.35,452.44 L316.47,454.00 L316.59,424.03 L316.71,400.09 L316.82,380.98 L316.94,365.72 L317.06,353.53 L317.18,343.80 L317.29,336.03 L317.41,329.83 L317.53,324.87 L317.65,320.91 L317.76,317.76 L317.88,315.23 L318.00,313.22 L318.12,311.61 L318.24,310.33 L318.35,309.30 L318.47,335.34 L318.59,356.92 L318.71,374.81 L318.82,389.65 L318.94,401.95 L319.06,412.14 L319.18,420.60 L319.30,427.60 L319.41,433.41 L319.53,438.23 L319.65,442.22 L319.77,445.53 L319.88,448.28 L320.00,450.55 L320.12,452.44 L320.24,454.00 L320.35,424.03 L320.47,400.09 L320.59,380.98 L320.71,365.72 L320.83,353.53 L320.94,343.80 L321.06,336.03 L321.18,329.83 L321.30,324.87 L321.41,320.91 L321.53,317.76 L321.65,315.23 L321.77,313.22 L321.89,311.61 L322.00,310.33 L322.12,309.30 L322.24,335.34 L322.36,356.92 L322.47,374.81 L322.59,389.65 L322.71,401.95 L322.83,412.14 L322.94,420.60 L323.06,427.60 L323.18,433.41 L323.30,438.23 L323.42,442.22 L323.53,445.53 L323.65,448.28 L323.77,450.55 L323.89,452.44 L324.00,454.00 L324.12,424.03 L324.24,400.09 L324.36,380.98 L324.47,365.72 L324.59,353.53 L324.71,343.80 L324.83,336.03 L324.95,329.83 L325.06,324.87 L325.18,320.91 L325.30,317.76 L325.42,315.23 L325.53,313.22 L325.65,311.61 L325.77,310.33 L325.89,309.30 L326.01,335.34 L326.12,356.92 L326.24,374.81 L326.36,389.65 L326.48,401.95 L326.59,412.14 L326.71,420.60 L326.83,427.60 L326.95,433.41 L327.06,438.23 L327.18,442.22 L327.30,445.53 L327.42,448.28 L327.54,450.55 L327.65,452.44 L327.77,454.00 L327.89,424.03 L328.01,400.09 L328.12,380.98 L328.24,365.72 L328.36,353.53 L328.48,343.80 L328.60,336.03 L328.71,329.83 L328.83,324.87 L328.95,320.91 L329.07,317.76 L329.18,315.23 L329.30,313.22 L329.42,311.61 L329.54,310.33 L329.65,309.30 L329.77,335.34 L329.89,356.92 L330.01,374.81 L330.13,389.65 L330.24,401.95 L330.36,412.14 L330.48,420.60 L330.60,427.60 L330.71,433.41 L330.83,438.23 L330.95,442.22 L331.07,445.53 L331.18,448.28 L331.30,450.55 L331.42,452.44 L331.54,454.00 L331.66,424.03 L331.77,400.09 L331.89,380.98 L332.01,365.72 L332.13,353.53 L332.24,343.80 L332.36,336.03 L332.48,329.83 L332.60,324.87 L332.72,320.91 L332.83,317.76 L332.95,315.23 L333.07,313.22 L333.19,311.61 L333.30,310.33 L333.42,309.30 L333.54,335.34 L333.66,356.92 L333.77,374.81 L333.89,389.65 L334.01,401.95 L334.13,412.14 L334.25,420.60 L334.36,427.60 L334.48,433.41 L334.60,438.23 L334.72,442.22 L334.83,445.53 L334.95,448.28 L335.07,450.55 L335.19,452.44 L335.31,454.00 L335.42,424.03 L335.54,400.09 L335.66,380.98 L335.78,365.72 L335.89,353.53 L336.01,343.80 L336.13,336.03 L336.25,329.83 L336.36,324.87 L336.48,320.91 L336.60,317.76 L336.72,315.23 L336.84,313.22 L336.95,311.61 L337.07,310.33 L337.19,309.30 L337.31,335.34 L337.42,356.92 L337.54,374.81 L337.66,389.65 L337.78,401.95 L337.89,412.14 L338.01,420.60 L338.13,427.60 L338.25,433.41 L338.37,438.23 L338.48,442.22 L338.60,445.53 L338.72,448.28 L338.84,450.55 L338.95,452.44 L339.07,454.00 L339.19,424.03 L339.31,400.09 L339.43,380.98 L339.54,365.72 L339.66,353.53 L339.78,343.80 L339.90,336.03 L340.01,329.83 L340.13,324.87 L340.25,320.91 L340.37,317.76 L340.48,315.23 L340.60,313.22 L340.72,311.61 L340.84,310.33 L340.96,309.30 L341.07,335.34 L341.19,356.92 L341.31,374.81 L341.43,389.65 L341.54,401.95 L341.66,412.14 L341.78,420.60 L341.90,427.60 L342.01,433.41 L342.13,438.23 L342.25,442.22 L342.37,445.53 L342.49,448.28 L342.60,450.55 L342.72,452.44 L342.84,454.00 L342.96,424.03 L343.07,400.09 L343.19,380.98 L343.31,365.72 L343.43,353.53 L343.55,343.80 L343.66,336.03 L343.78,329.83 L343.90,324.87 L344.02,320.91 L344.13,317.76 L344.25,315.23 L344.37,313.22 L344.49,311.61 L344.60,310.33 L344.72,309.30 L344.84,335.34 L344.96,356.92 L345.08,374.81 L345.19,389.65 L345.31,401.95 L345.43,412.14 L345.55,420.60 L345.66,427.60 L345.78,433.41 L345.90,438.23 L346.02,442.22 L346.14,445.53 L346.25,448.28 L346.37,450.55 L346.49,452.44 L346.61,454.00 L346.72,424.03 L346.84,400.09 L346.96,380.98 L347.08,365.72 L347.19,353.53 L347.31,343.80 L347.43,336.03 L347.55,329.83 L347.67,324.87 L347.78,320.91 L347.90,317.76 L348.02,315.23 L348.14,313.22 L348.25,311.61 L348.37,310.33 L348.49,309.30 L348.61,335.34 L348.72,356.92 L348.84,374.81 L348.96,389.65 L349.08,401.95 L349.20,412.14 L349.31,420.60 L349.43,427.60 L349.55,433.41 L349.67,438.23 L349.78,442.22 L349.90,445.53 L350.02,448.28 L350.14,450.55 L350.26,452.44 L350.37,454.00 L350.49,424.03 L350.61,400.09 L350.73,380.98 L350.84,365.72 L350.96,353.53 L351.08,343.80 L351.20,336.03 L351.31,329.83 L351.43,324.87 L351.55,320.91 L351.67,317.76 L351.79,315.23 L351.90,313.22 L352.02,311.61 L352.14,310.33 L352.26,309.30 L352.37,335.34 L352.49,356.92 L352.61,374.81 L352.73,389.65 L352.85,401.95 L352.96,412.14 L353.08,420.60 L353.20,427.60 L353.32,433.41 L353.43,438.23 L353.55,442.22 L353.67,445.53 L353.79,448.28 L353.90,450.55 L354.02,452.44 L354.14,454.00 L354.26,424.03 L354.38,400.09 L354.49,380.98 L354.61,365.72 L354.73,353.53 L354.85,343.80 L354.96,336.03 L355.08,329.83 L355.20,324.87 L355.32,320.91 L355.43,317.76 L355.55,315.23 L355.67,313.22 L355.79,311.61 L355.91,310.33 L356.02,309.30 L356.14,335.34 L356.26,356.92 L356.38,374.81 L356.49,389.65 L356.61,401.95 L356.73,412.14 L356.85,420.60 L356.97,427.60 L357.08,433.41 L357.20,438.23 L357.32,442.22 L357.44,445.53 L357.55,448.28 L357.67,450.55 L357.79,452.44 L357.91,454.00 L358.02,424.03 L358.14,400.09 L358.26,380.98 L358.38,365.72 L358.50,353.53 L358.61,343.80 L358.73,336.03 L358.85,329.83 L358.97,324.87 L359.08,320.91 L359.20,317.76 L359.32,315.23 L359.44,313.22 L359.56,311.61 L359.67,310.33 L359.79,309.30 L359.91,335.34 L360.03,356.92 L360.14,374.81 L360.26,389.65 L360.38,401.95 L360.50,412.14 L360.61,420.60 L360.73,427.60 L360.85,433.41 L360.97,438.23 L361.09,442.22 L361.20,445.53 L361.32,448.28 L361.44,450.55 L361.56,452.44 L361.67,454.00 L361.79,424.03 L361.91,400.09 L362.03,380.98 L362.14,365.72 L362.26,353.53 L362.38,343.80 L362.50,336.03 L362.62,329.83 L362.73,324.87 L362.85,320.91 L362.97,317.76 L363.09,315.23 L363.20,313.22 L363.32,311.61 L363.44,310.33 L363.56,309.30 L363.68,335.34 L363.79,356.92 L363.91,374.81 L364.03,389.65 L364.15,401.95 L364.26,412.14 L364.38,420.60 L364.50,427.60 L364.62,433.41 L364.73,438.23 L364.85,442.22 L364.97,445.53 L365.09,448.28 L365.21,450.55 L365.32,452.44 L365.44,454.00 L365.56,424.03 L365.68,400.09 L365.79,380.98 L365.91,365.72 L366.03,353.53 L366.15,343.80 L366.27,336.03 L366.38,329.83 L366.50,324.87 L366.62,320.91 L366.74,317.76 L366.85,315.23 L366.97,313.22 L367.09,311.61 L367.21,310.33 L367.32,309.30 L367.44,335.34 L367.56,356.92 L367.68,374.81 L367.80,389.65 L367.91,401.95 L368.03,412.14 L368.15,420.60 L368.27,427.60 L368.38,433.41 L368.50,438.23 L368.62,442.22 L368.74,445.53 L368.85,448.28 L368.97,450.55 L369.09,452.44 L369.21,454.00 L369.33,424.03 L369.44,400.09 L369.56,380.98 L369.68,365.72 L369.80,353.53 L369.91,343.80 L370.03,336.03 L370.15,329.83 L370.27,324.87 L370.39,320.91 L370.50,317.76 L370.62,315.23 L370.74,313.22 L370.86,311.61 L370.97,310.33 L371.09,309.30 L371.21,335.34 L371.33,356.92 L371.44,374.81 L371.56,389.65 L371.68,401.95 L371.80,412.14 L371.92,420.60 L372.03,427.60 L372.15,433.41 L372.27,438.23 L372.39,442.22 L372.50,445.53 L372.62,448.28 L372.74,450.55 L372.86,452.44 L372.98,454.00 L373.09,424.03 L373.21,400.09 L373.33,380.98 L373.45,365.72 L373.56,353.53 L373.68,343.80 L373.80,336.03 L373.92,329.83 L374.03,324.87 L374.15,320.91 L374.27,317.76 L374.39,315.23 L374.51,313.22 L374.62,311.61 L374.74,310.33 L374.86,309.30 L374.98,335.34 L375.09,356.92 L375.21,374.81 L375.33,389.65 L375.45,401.95 L375.56,412.14 L375.68,420.60 L375.80,427.60 L375.92,433.41 L376.04,438.23 L376.15,442.22 L376.27,445.53 L376.39,448.28 L376.51,450.55 L376.62,452.44 L376.74,454.00 L376.86,424.03 L376.98,400.09 L377.10,380.98 L377.21,365.72 L377.33,353.53 L377.45,343.80 L377.57,336.03 L377.68,329.83 L377.80,324.87 L377.92,320.91 L378.04,317.76 L378.15,315.23 L378.27,313.22 L378.39,311.61 L378.51,310.33 L378.63,309.30 L378.74,335.34 L378.86,356.92 L378.98,374.81 L379.10,389.65 L379.21,401.95 L379.33,412.14 L379.45,420.60 L379.57,427.60 L379.68,433.41 L379.80,438.23 L379.92,442.22 L380.04,445.53 L380.16,448.28 L380.27,450.55 L380.39,452.44 L380.51,454.00 L380.63,424.03 L380.74,400.09 L380.86,380.98 L380.98,365.72 L381.10,353.53 L381.22,343.80 L381.33,336.03 L381.45,329.83 L381.57,324.87 L381.69,320.91 L381.80,317.76 L381.92,315.23 L382.04,313.22 L382.16,311.61 L382.27,310.33 L382.39,309.30 L382.51,335.34 L382.63,356.92 L382.75,374.81 L382.86,389.65 L382.98,401.95 L383.10,412.14 L383.22,420.60 L383.33,427.60 L383.45,433.41 L383.57,438.23 L383.69,442.22 L383.81,445.53 L383.92,448.28 L384.04,450.55 L384.16,452.44 L384.28,454.00 L384.39,424.03 L384.51,400.09 L384.63,380.98 L384.75,365.72 L384.86,353.53 L384.98,343.80 L385.10,336.03 L385.22,329.83 L385.34,324.87 L385.45,320.91 L385.57,317.76 L385.69,315.23 L385.81,313.22 L385.92,311.61 L386.04,310.33 L386.16,309.30 L386.28,335.34 L386.39,356.92 L386.51,374.81 L386.63,389.65 L386.75,401.95 L386.87,412.14 L386.98,420.60 L387.10,427.60 L387.22,433.41 L387.34,438.23 L387.45,442.22 L387.57,445.53 L387.69,448.28 L387.81,450.55 L387.93,452.44 L388.04,454.00 L388.16,424.03 L388.28,400.09 L388.40,380.98 L388.51,365.72 L388.63,353.53 L388.75,343.80 L388.87,336.03 L388.98,329.83 L389.10,324.87 L389.22,320.91 L389.34,317.76 L389.46,315.23 L389.57,313.22 L389.69,311.61 L389.81,310.33 L389.93,309.30 L390.04,335.34 L390.16,356.92 L390.28,374.81 L390.40,389.65 L390.52,401.95 L390.63,412.14 L390.75,420.60 L390.87,427.60 L390.99,433.41 L391.10,438.23 L391.22,442.22 L391.34,445.53 L391.46,448.28 L391.57,450.55 L391.69,452.44 L391.81,454.00 L391.93,424.03 L392.05,400.09 L392.16,380.98 L392.28,365.72 L392.40,353.53 L392.52,343.80 L392.63,336.03 L392.75,329.83 L392.87,324.87 L392.99,320.91 L393.10,317.76 L393.22,315.23 L393.34,313.22 L393.46,311.61 L393.58,310.33 L393.69,309.30 L393.81,335.34 L393.93,356.92 L394.05,374.81 L394.16,389.65 L394.28,401.95 L394.40,412.14 L394.52,420.60 L394.64,427.60 L394.75,433.41 L394.87,438.23 L394.99,442.22 L395.11,445.53 L395.22,448.28 L395.34,450.55 L395.46,452.44 L395.58,454.00 L395.69,424.03 L395.81,400.09 L395.93,380.98 L396.05,365.72 L396.17,353.53 L396.28,343.80 L396.40,336.03 L396.52,329.83 L396.64,324.87 L396.75,320.91 L396.87,317.76 L396.99,315.23 L397.11,313.22 L397.23,311.61 L397.34,310.33 L397.46,309.30 L397.58,335.34 L397.70,356.92 L397.81,374.81 L397.93,389.65 L398.05,401.95 L398.17,412.14 L398.28,420.60 L398.40,427.60 L398.52,433.41 L398.64,438.23 L398.76,442.22 L398.87,445.53 L398.99,448.28 L399.11,450.55 L399.23,452.44 L399.34,454.00 L399.46,424.03 L399.58,400.09 L399.70,380.98 L399.81,365.72 L399.93,353.53 L400.05,343.80 L400.17,336.03 L400.29,329.83 L400.40,324.87 L400.52,320.91 L400.64,317.76 L400.76,315.23 L400.87,313.22 L400.99,311.61 L401.11,310.33 L401.23,309.30 L401.35,335.34 L401.46,356.92 L401.58,374.81 L401.70,389.65 L401.82,401.95 L401.93,412.14 L402.05,420.60 L402.17,427.60 L402.29,433.41 L402.40,438.23 L402.52,442.22 L402.64,445.53 L402.76,448.28 L402.88,450.55 L402.99,452.44 L403.11,454.00 L403.23,424.03 L403.35,400.09 L403.46,380.98 L403.58,365.72 L403.70,353.53 L403.82,343.80 L403.94,336.03 L404.05,329.83 L404.17,324.87 L404.29,320.91 L404.41,317.76 L404.52,315.23 L404.64,313.22 L404.76,311.61 L404.88,310.33 L404.99,309.30 L405.11,335.34 L405.23,356.92 L405.35,374.81 L405.47,389.65 L405.58,401.95 L405.70,412.14 L405.82,420.60 L405.94,427.60 L406.05,433.41 L406.17,438.23 L406.29,442.22 L406.41,445.53 L406.52,448.28 L406.64,450.55 L406.76,452.44 L406.88,454.00 L407.00,424.03 L407.11,400.09 L407.23,380.98 L407.35,365.72 L407.47,353.53 L407.58,343.80 L407.70,336.03 L407.82,329.83 L407.94,324.87 L408.06,320.91 L408.17,317.76 L408.29,315.23 L408.41,313.22 L408.53,311.61 L408.64,310.33 L408.76,309.30 L408.88,335.34 L409.00,356.92 L409.11,374.81 L409.23,389.65 L409.35,401.95 L409.47,412.14 L409.59,420.60 L409.70,427.60 L409.82,433.41 L409.94,438.23 L410.06,442.22 L410.17,445.53 L410.29,448.28 L410.41,450.55 L410.53,452.44 L410.64,454.00 L410.76,424.03 L410.88,400.09 L411.00,380.98 L411.12,365.72 L411.23,353.53 L411.35,343.80 L411.47,336.03 L411.59,329.83 L411.70,324.87 L411.82,320.91 L411.94,317.76 L412.06,315.23 L412.18,313.22 L412.29,311.61 L412.41,310.33 L412.53,309.30 L412.65,335.34 L412.76,356.92 L412.88,374.81 L413.00,389.65 L413.12,401.95 L413.23,412.14 L413.35,420.60 L413.47,427.60 L413.59,433.41 L413.71,438.23 L413.82,442.22 L413.94,445.53 L414.06,448.28 L414.18,450.55 L414.29,452.44 L414.41,454.00 L414.53,424.03 L414.65,400.09 L414.77,380.98 L414.88,365.72 L415.00,353.53 L415.12,343.80 L415.24,336.03 L415.35,329.83 L415.47,324.87 L415.59,320.91 L415.71,317.76 L415.82,315.23 L415.94,313.22 L416.06,311.61 L416.18,310.33 L416.30,309.30 L416.41,335.34 L416.53,356.92 L416.65,374.81 L416.77,389.65 L416.88,401.95 L417.00,412.14 L417.12,420.60 L417.24,427.60 L417.35,433.41 L417.47,438.23 L417.59,442.22 L417.71,445.53 L417.83,448.28 L417.94,450.55 L418.06,452.44 L418.18,454.00 L418.30,424.03 L418.41,400.09 L418.53,380.98 L418.65,365.72 L418.77,353.53 L418.89,343.80 L419.00,336.03 L419.12,329.83 L419.24,324.87 L419.36,320.91 L419.47,317.76 L419.59,315.23 L419.71,313.22 L419.83,311.61 L419.94,310.33 L420.06,309.30 L420.18,335.34 L420.30,356.92 L420.42,374.81 L420.53,389.65 L420.65,401.95 L420.77,412.14 L420.89,420.60 L421.00,427.60 L421.12,433.41 L421.24,438.23 L421.36,442.22 L421.48,445.53 L421.59,448.28 L421.71,450.55 L421.83,452.44 L421.95,454.00 L422.06,424.03 L422.18,400.09 L422.30,380.98 L422.42,365.72 L422.53,353.53 L422.65,343.80 L422.77,336.03 L422.89,329.83 L423.01,324.87 L423.12,320.91 L423.24,317.76 L423.36,315.23 L423.48,313.22 L423.59,311.61 L423.71,310.33 L423.83,309.30 L423.95,335.34 L424.06,356.92 L424.18,374.81 L424.30,389.65 L424.42,401.95 L424.54,412.14 L424.65,420.60 L424.77,427.60 L424.89,433.41 L425.01,438.23 L425.12,442.22 L425.24,445.53 L425.36,448.28 L425.48,450.55 L425.60,452.44 L425.71,454.00 L425.83,424.03 L425.95,400.09 L426.07,380.98 L426.18,365.72 L426.30,353.53 L426.42,343.80 L426.54,336.03 L426.65,329.83 L426.77,324.87 L426.89,320.91 L427.01,317.76 L427.13,315.23 L427.24,313.22 L427.36,311.61 L427.48,310.33 L427.60,309.30 L427.71,335.34 L427.83,356.92 L427.95,374.81 L428.07,389.65 L428.19,401.95 L428.30,412.14 L428.42,420.60 L428.54,427.60 L428.66,433.41 L428.77,438.23 L428.89,442.22 L429.01,445.53 L429.13,448.28 L429.24,450.55 L429.36,452.44 L429.48,454.00 L429.60,424.03 L429.72,400.09 L429.83,380.98 L429.95,365.72 L430.07,353.53 L430.19,343.80 L430.30,336.03 L430.42,329.83 L430.54,324.87 L430.66,320.91 L430.77,317.76 L430.89,315.23 L431.01,313.22 L431.13,311.61 L431.25,310.33 L431.36,309.30 L431.48,335.34 L431.60,356.92 L431.72,374.81 L431.83,389.65 L431.95,401.95 L432.07,412.14 L432.19,420.60 L432.31,427.60 L432.42,433.41 L432.54,438.23 L432.66,442.22 L432.78,445.53 L432.89,448.28 L433.01,450.55 L433.13,452.44 L433.25,454.00 L433.36,424.03 L433.48,400.09 L433.60,380.98 L433.72,365.72 L433.84,353.53 L433.95,343.80 L434.07,336.03 L434.19,329.83 L434.31,324.87 L434.42,320.91 L434.54,317.76 L434.66,315.23 L434.78,313.22 L434.90,311.61 L435.01,310.33 L435.13,309.30 L435.25,335.34 L435.37,356.92 L435.48,374.81 L435.60,389.65 L435.72,401.95 L435.84,412.14 L435.95,420.60 L436.07,427.60 L436.19,433.41 L436.31,438.23 L436.43,442.22 L436.54,445.53 L436.66,448.28 L436.78,450.55 L436.90,452.44 L437.01,454.00 L437.13,424.03 L437.25,400.09 L437.37,380.98 L437.48,365.72 L437.60,353.53 L437.72,343.80 L437.84,336.03 L437.96,329.83 L438.07,324.87 L438.19,320.91 L438.31,317.76 L438.43,315.23 L438.54,313.22 L438.66,311.61 L438.78,310.33 L438.90,309.30 L439.02,335.34 L439.13,356.92 L439.25,374.81 L439.37,389.65 L439.49,401.95 L439.60,412.14 L439.72,420.60 L439.84,427.60 L439.96,433.41 L440.07,438.23 L440.19,442.22 L440.31,445.53 L440.43,448.28 L440.55,450.55 L440.66,452.44 L440.78,454.00 L440.90,424.03 L441.02,400.09 L441.13,380.98 L441.25,365.72 L441.37,353.53 L441.49,343.80 L441.61,336.03 L441.72,329.83 L441.84,324.87 L441.96,320.91 L442.08,317.76 L442.19,315.23 L442.31,313.22 L442.43,311.61 L442.55,310.33 L442.66,309.30 L442.78,335.34 L442.90,356.92 L443.02,374.81 L443.14,389.65 L443.25,401.95 L443.37,412.14 L443.49,420.60 L443.61,427.60 L443.72,433.41 L443.84,438.23 L443.96,442.22 L444.08,445.53 L444.19,448.28 L444.31,450.55 L444.43,452.44 L444.55,454.00 L444.67,424.03 L444.78,400.09 L444.90,380.98 L445.02,365.72 L445.14,353.53 L445.25,343.80 L445.37,336.03 L445.49,329.83 L445.61,324.87 L445.73,320.91 L445.84,317.76 L445.96,315.23 L446.08,313.22 L446.20,311.61 L446.31,310.33 L446.43,309.30 L446.55,335.34 L446.67,356.92 L446.78,374.81 L446.90,389.65 L447.02,401.95 L447.14,412.14 L447.26,420.60 L447.37,427.60 L447.49,433.41 L447.61,438.23 L447.73,442.22 L447.84,445.53 L447.96,448.28 L448.08,450.55 L448.20,452.44 L448.31,454.00 L448.43,424.03 L448.55,400.09 L448.67,380.98 L448.79,365.72 L448.90,353.53 L449.02,343.80 L449.14,336.03 L449.26,329.83 L449.37,324.87 L449.49,320.91 L449.61,317.76 L449.73,315.23 L449.85,313.22 L449.96,311.61 L450.08,310.33 L450.20,309.30 L450.32,335.34 L450.43,356.92 L450.55,374.81 L450.67,389.65 L450.79,401.95 L450.90,412.14 L451.02,420.60 L451.14,427.60 L451.26,433.41 L451.38,438.23 L451.49,442.22 L451.61,445.53 L451.73,448.28 L451.85,450.55 L451.96,452.44 L452.08,454.00 L452.20,424.03 L452.32,400.09 L452.44,380.98 L452.55,365.72 L452.67,353.53 L452.79,343.80 L452.91,336.03 L453.02,329.83 L453.14,324.87 L453.26,320.91 L453.38,317.76 L453.49,315.23 L453.61,313.22 L453.73,311.61 L453.85,310.33 L453.97,309.30 L454.08,335.34 L454.20,356.92 L454.32,374.81 L454.44,389.65 L454.55,401.95 L454.67,412.14 L454.79,420.60 L454.91,427.60 L455.02,433.41 L455.14,438.23 L455.26,442.22 L455.38,445.53 L455.50,448.28 L455.61,450.55 L455.73,452.44 L455.85,454.00 L455.97,424.03 L456.08,400.09 L456.20,380.98 L456.32,365.72 L456.44,353.53 L456.56,343.80 L456.67,336.03 L456.79,329.83 L456.91,324.87 L457.03,320.91 L457.14,317.76 L457.26,315.23 L457.38,313.22 L457.50,311.61 L457.61,310.33 L457.73,309.30 L457.85,335.34 L457.97,356.92 L458.09,374.81 L458.20,389.65 L458.32,401.95 L458.44,412.14 L458.56,420.60 L458.67,427.60 L458.79,433.41 L458.91,438.23 L459.03,442.22 L459.15,445.53 L459.26,448.28 L459.38,450.55 L459.50,452.44 L459.62,454.00 L459.73,424.03 L459.85,400.09 L459.97,380.98 L460.09,365.72 L460.20,353.53 L460.32,343.80 L460.44,336.03 L460.56,329.83 L460.68,324.87 L460.79,320.91 L460.91,317.76 L461.03,315.23 L461.15,313.22 L461.26,311.61 L461.38,310.33 L461.50,309.30 L461.62,335.34 L461.73,356.92 L461.85,374.81 L461.97,389.65 L462.09,401.95 L462.21,412.14 L462.32,420.60 L462.44,427.60 L462.56,433.41 L462.68,438.23 L462.79,442.22 L462.91,445.53 L463.03,448.28 L463.15,450.55 L463.27,452.44 L463.38,454.00 L463.50,424.03 L463.62,400.09 L463.74,380.98 L463.85,365.72 L463.97,353.53 L464.09,343.80 L464.21,336.03 L464.32,329.83 L464.44,324.87 L464.56,320.91 L464.68,317.76 L464.80,315.23 L464.91,313.22 L465.03,311.61 L465.15,310.33 L465.27,309.30 L465.38,335.34 L465.50,356.92 L465.62,374.81 L465.74,389.65 L465.86,401.95 L465.97,412.14 L466.09,420.60 L466.21,427.60 L466.33,433.41 L466.44,438.23 L466.56,442.22 L466.68,445.53 L466.80,448.28 L466.91,450.55 L467.03,452.44 L467.15,454.00" fill="none" stroke="#ff0000" stroke-width="1.0" stroke-linejoin="round"/>
<text x="485.8" y="298" font-size="16" font-weight="bold" fill="#000">f</text>
<text x="535.30" y="306.80" font-size="12.4" text-anchor="middle" fill="#1a1a1a" >MXene fiber</text>
<text x="632.50" y="306.80" font-size="12.4" text-anchor="middle" fill="#1a1a1a" >CSM fiber</text>
<clipPath id="cm"><rect x="495.2" y="312.1" width="79.69999999999999" height="177.5"/></clipPath>
<clipPath id="cu"><polygon points="495.2,312.3 501.1,312.3 505.1,318.1 510.2,325.2 515.3,330.3 521.4,334.3 528.5,339.4 534.6,344.5 539.9,347.8 547,356.4 552.7,366.3 557,373.4 561.3,379.1 565.5,387.6 568.4,394.7 571.9,403.2 566.9,407.5 560.3,407.5 540,404 523.2,401 523.2,396.1 521.4,388.8 515.9,379.7 510.4,370.5 503.1,362.3 495.2,355"/></clipPath>
<clipPath id="cl"><polygon points="523.2,398 540,400 560.3,403 571.9,403.2 566.9,407.5 560.3,407.5 559.4,420.5 554.7,433.6 548,444 540,453 534,461 527,468.5 519,476 511,483 504,488 500,489.6 495.2,489.6 495.2,429 497.6,425.3 505,418 514.1,412.5 521.4,409.8 523.2,405.2"/></clipPath>
<rect x="495.2" y="312.1" width="79.69999999999999" height="177.5" fill="#3a3a3a"/>
<g clip-path="url(#cm)">
<polygon points="495.2,312.3 501.1,312.3 505.1,318.1 510.2,325.2 515.3,330.3 521.4,334.3 528.5,339.4 534.6,344.5 539.9,347.8 547,356.4 552.7,366.3 557,373.4 561.3,379.1 565.5,387.6 568.4,394.7 571.9,403.2 566.9,407.5 560.3,407.5 540,404 523.2,401 523.2,396.1 521.4,388.8 515.9,379.7 510.4,370.5 503.1,362.3 495.2,355" fill="#747474"/>
<polygon points="523.2,398 540,400 560.3,403 571.9,403.2 566.9,407.5 560.3,407.5 559.4,420.5 554.7,433.6 548,444 540,453 534,461 527,468.5 519,476 511,483 504,488 500,489.6 495.2,489.6 495.2,429 497.6,425.3 505,418 514.1,412.5 521.4,409.8 523.2,405.2" fill="#7a7a7a"/>
<g clip-path="url(#cu)">
<path d="M525.5,354.4 C537.3,367.4 549.1,380.6 562.3,392.4" stroke="#5e5e5e" stroke-width="1.68" fill="none" opacity="0.7"/>
<path d="M475.2,322.8 C479.4,332.0 486.3,338.6 494.9,343.7" stroke="#5e5e5e" stroke-width="2.15" fill="none" opacity="0.7"/>
<path d="M524.2,364.9 C527.7,372.0 534.4,376.3 539.2,382.2" stroke="#484848" stroke-width="1.64" fill="none" opacity="0.7"/>
<path d="M494.9,343.6 C503.8,353.4 512.6,363.4 522.6,372.3" stroke="#3e3e3e" stroke-width="1.44" fill="none" opacity="0.7"/>
<path d="M567.2,389.1 C580.3,402.3 594.2,414.7 607.1,428.1" stroke="#555555" stroke-width="0.84" fill="none" opacity="0.7"/>
<path d="M484.2,316.9 C489.7,321.3 494.6,326.3 497.2,333.4" stroke="#484848" stroke-width="1.09" fill="none" opacity="0.7"/>
<path d="M501.4,361.6 C514.9,374.1 525.6,389.3 537.6,403.2" stroke="#555555" stroke-width="1.27" fill="none" opacity="0.7"/>
<path d="M483.6,301.8 C493.6,307.5 499.2,317.2 508.9,323.2" stroke="#5e5e5e" stroke-width="1.92" fill="none" opacity="0.7"/>
<path d="M536.4,344.2 C542.4,354.2 552.1,360.8 558.2,370.7" stroke="#3e3e3e" stroke-width="1.35" fill="none" opacity="0.7"/>
<path d="M457.3,323.7 C470.0,334.9 480.2,348.5 494.8,358.0" stroke="#484848" stroke-width="1.35" fill="none" opacity="0.7"/>
<path d="M515.9,377.0 C523.1,379.7 527.6,384.9 530.7,391.5" stroke="#555555" stroke-width="1.96" fill="none" opacity="0.7"/>
<path d="M486.7,308.8 C494.4,313.1 498.9,320.2 503.7,327.1" stroke="#484848" stroke-width="2.14" fill="none" opacity="0.7"/>
<path d="M526.5,355.9 C538.0,368.2 547.1,382.9 558.9,395.0" stroke="#484848" stroke-width="1.82" fill="none" opacity="0.7"/>
<path d="M541.3,351.3 C551.0,359.8 559.4,369.5 569.4,377.7" stroke="#3e3e3e" stroke-width="0.95" fill="none" opacity="0.7"/>
<path d="M573.5,377.4 C580.9,382.4 585.0,390.5 591.6,396.2" stroke="#555555" stroke-width="1.53" fill="none" opacity="0.7"/>
<path d="M542.8,408.3 C547.2,414.1 552.2,419.3 558.9,423.0" stroke="#484848" stroke-width="2.08" fill="none" opacity="0.7"/>
<path d="M489.2,296.9 C496.6,302.4 502.5,309.4 508.0,316.7" stroke="#484848" stroke-width="0.93" fill="none" opacity="0.7"/>
<path d="M527.0,334.6 C534.4,341.3 539.7,349.8 547.6,356.0" stroke="#3e3e3e" stroke-width="1.46" fill="none" opacity="0.7"/>
<path d="M507.8,329.2 C513.6,332.0 517.7,336.4 521.0,341.6" stroke="#484848" stroke-width="2.20" fill="none" opacity="0.7"/>
<path d="M536.7,341.6 C547.6,352.3 558.0,363.3 568.1,374.8" stroke="#555555" stroke-width="1.29" fill="none" opacity="0.7"/>
<path d="M545.6,392.9 C555.9,406.5 567.2,419.1 579.7,430.7" stroke="#5e5e5e" stroke-width="1.33" fill="none" opacity="0.7"/>
<path d="M502.0,294.4 C506.1,299.8 510.2,305.2 515.1,309.9" stroke="#5e5e5e" stroke-width="1.42" fill="none" opacity="0.7"/>
<path d="M472.9,323.3 C481.5,336.2 492.4,347.2 503.6,357.7" stroke="#3e3e3e" stroke-width="1.50" fill="none" opacity="0.7"/>
<path d="M551.1,391.1 C556.3,398.5 561.1,406.1 568.7,411.3" stroke="#484848" stroke-width="1.86" fill="none" opacity="0.7"/>
<path d="M561.2,383.4 C568.9,392.7 577.6,401.1 584.6,411.2" stroke="#484848" stroke-width="2.03" fill="none" opacity="0.7"/>
<path d="M531.0,353.2 C536.4,361.4 541.9,369.5 548.5,376.7" stroke="#3e3e3e" stroke-width="2.13" fill="none" opacity="0.7"/>
<path d="M499.8,312.6 C507.8,320.8 515.0,329.8 522.1,338.9" stroke="#5e5e5e" stroke-width="1.74" fill="none" opacity="0.7"/>
<path d="M539.8,388.4 C547.5,400.0 558.6,408.4 566.9,419.4" stroke="#555555" stroke-width="1.60" fill="none" opacity="0.7"/>
<path d="M551.1,369.4 C554.1,374.7 559.4,377.6 560.8,384.3" stroke="#484848" stroke-width="1.89" fill="none" opacity="0.7"/>
<path d="M549.4,403.3 C552.9,409.8 557.4,415.3 563.1,419.7" stroke="#3e3e3e" stroke-width="1.76" fill="none" opacity="0.7"/>
<path d="M529.1,336.8 C533.0,344.0 537.6,350.5 544.7,354.7" stroke="#555555" stroke-width="1.89" fill="none" opacity="0.7"/>
<path d="M552.9,393.8 C563.8,400.2 569.8,411.2 578.6,419.6" stroke="#484848" stroke-width="0.92" fill="none" opacity="0.7"/>
<path d="M521.5,385.3 C525.9,391.2 529.9,397.4 536.6,401.1" stroke="#555555" stroke-width="1.45" fill="none" opacity="0.7"/>
<path d="M487.4,330.2 C498.1,340.7 508.1,351.9 519.9,361.4" stroke="#5e5e5e" stroke-width="2.17" fill="none" opacity="0.7"/>
<path d="M504.8,369.7 C513.7,383.1 524.7,394.7 537.1,404.8" stroke="#3e3e3e" stroke-width="0.85" fill="none" opacity="0.7"/>
<path d="M516.5,339.5 C525.0,344.1 529.1,352.8 536.8,358.2" stroke="#3e3e3e" stroke-width="1.04" fill="none" opacity="0.7"/>
<path d="M549.9,370.0 C553.7,376.6 558.1,382.6 562.8,388.4" stroke="#5e5e5e" stroke-width="2.12" fill="none" opacity="0.7"/>
<path d="M557.3,390.1 C560.9,396.0 566.2,400.2 569.4,406.4" stroke="#484848" stroke-width="1.53" fill="none" opacity="0.7"/>
<path d="M511.4,367.4 C516.5,375.9 522.8,383.2 531.6,388.2" stroke="#484848" stroke-width="2.16" fill="none" opacity="0.7"/>
<path d="M523.7,358.2 C529.4,364.1 534.6,370.5 542.1,374.8" stroke="#3e3e3e" stroke-width="1.52" fill="none" opacity="0.7"/>
<path d="M547.4,374.5 C555.6,384.5 566.4,392.1 573.7,403.0" stroke="#5e5e5e" stroke-width="2.09" fill="none" opacity="0.7"/>
<path d="M499.6,352.2 C506.1,358.2 510.2,366.4 516.1,372.9" stroke="#5e5e5e" stroke-width="1.53" fill="none" opacity="0.7"/>
<path d="M527.0,329.4 C529.6,335.1 532.8,340.3 539.9,341.9" stroke="#484848" stroke-width="1.12" fill="none" opacity="0.7"/>
<path d="M496.5,341.4 C505.1,347.3 510.0,356.7 518.9,362.4" stroke="#555555" stroke-width="1.80" fill="none" opacity="0.7"/>
<path d="M542.4,392.1 C545.8,397.0 550.5,400.7 554.8,404.8" stroke="#484848" stroke-width="1.54" fill="none" opacity="0.7"/>
<path d="M515.9,371.9 C525.7,385.7 536.8,398.2 547.9,410.8" stroke="#555555" stroke-width="1.64" fill="none" opacity="0.7"/>
<path d="M479.7,335.5 C490.8,346.8 498.9,360.7 512.0,370.0" stroke="#3e3e3e" stroke-width="1.16" fill="none" opacity="0.7"/>
<path d="M560.2,367.8 C569.9,374.0 576.5,382.9 583.2,391.9" stroke="#3e3e3e" stroke-width="0.93" fill="none" opacity="0.7"/>
<path d="M504.6,339.8 C514.5,352.8 525.9,364.5 537.9,375.6" stroke="#484848" stroke-width="1.92" fill="none" opacity="0.7"/>
<path d="M479.1,307.5 C488.7,319.8 500.7,329.9 512.2,340.4" stroke="#3e3e3e" stroke-width="1.09" fill="none" opacity="0.7"/>
<path d="M548.4,405.3 C560.5,418.1 569.7,433.8 583.3,445.3" stroke="#3e3e3e" stroke-width="1.26" fill="none" opacity="0.7"/>
<path d="M520.8,351.3 C530.3,357.7 535.7,368.0 542.8,376.6" stroke="#484848" stroke-width="1.37" fill="none" opacity="0.7"/>
<path d="M512.6,334.5 C526.2,345.9 535.9,360.9 549.4,372.4" stroke="#3e3e3e" stroke-width="1.92" fill="none" opacity="0.7"/>
<path d="M541.6,389.9 C550.3,400.6 560.0,410.4 567.8,422.0" stroke="#555555" stroke-width="1.19" fill="none" opacity="0.7"/>
<path d="M551.6,360.9 C559.4,364.1 564.0,370.3 568.5,376.6" stroke="#555555" stroke-width="1.87" fill="none" opacity="0.7"/>
<path d="M502.4,349.9 C511.7,361.8 521.5,373.1 533.2,382.8" stroke="#555555" stroke-width="2.19" fill="none" opacity="0.7"/>
<path d="M464.7,325.1 C473.0,329.9 479.5,336.3 485.1,343.6" stroke="#484848" stroke-width="1.55" fill="none" opacity="0.7"/>
<path d="M563.8,392.6 C573.1,403.1 581.9,414.0 594.5,421.3" stroke="#3e3e3e" stroke-width="1.83" fill="none" opacity="0.7"/>
<path d="M520.3,332.6 C523.9,337.8 529.1,341.5 532.8,346.6" stroke="#555555" stroke-width="1.57" fill="none" opacity="0.7"/>
<path d="M555.8,394.6 C565.8,403.0 574.0,413.1 585.2,420.4" stroke="#3e3e3e" stroke-width="1.34" fill="none" opacity="0.7"/>
<path d="M491.8,356.4 C505.2,368.8 517.5,382.4 530.4,395.2" stroke="#5e5e5e" stroke-width="1.39" fill="none" opacity="0.7"/>
<path d="M526.5,359.8 C532.3,368.5 539.7,375.8 547.6,382.6" stroke="#555555" stroke-width="0.84" fill="none" opacity="0.7"/>
<path d="M516.1,367.4 C524.6,378.4 536.0,386.7 544.6,397.6" stroke="#5e5e5e" stroke-width="0.87" fill="none" opacity="0.7"/>
<path d="M536.5,408.6 C542.5,412.0 546.8,416.9 549.7,423.2" stroke="#484848" stroke-width="0.86" fill="none" opacity="0.7"/>
<path d="M560.4,364.0 C569.6,379.2 583.8,389.9 594.2,404.0" stroke="#3e3e3e" stroke-width="1.67" fill="none" opacity="0.7"/>
<path d="M495.4,322.5 C500.9,325.9 504.2,331.5 507.7,336.8" stroke="#5e5e5e" stroke-width="1.64" fill="none" opacity="0.7"/>
<path d="M527.9,372.6 C534.7,380.4 543.9,385.9 550.5,394.0" stroke="#484848" stroke-width="1.13" fill="none" opacity="0.7"/>
<path d="M565.2,373.4 C576.8,384.2 587.8,395.5 597.3,408.4" stroke="#484848" stroke-width="1.69" fill="none" opacity="0.7"/>
<path d="M481.8,332.8 C488.0,339.1 494.2,345.4 502.9,349.4" stroke="#3e3e3e" stroke-width="0.81" fill="none" opacity="0.7"/>
<path d="M488.8,299.0 C492.7,303.7 495.3,309.5 498.9,314.5" stroke="#484848" stroke-width="1.57" fill="none" opacity="0.7"/>
<path d="M504.1,342.9 C511.7,351.9 518.5,361.8 526.2,370.8" stroke="#3e3e3e" stroke-width="1.92" fill="none" opacity="0.7"/>
<path d="M546.6,378.8 C558.9,389.9 569.1,402.9 581.5,414.0" stroke="#484848" stroke-width="1.32" fill="none" opacity="0.7"/>
<path d="M553.7,400.2 C559.8,408.0 565.9,415.7 574.1,421.5" stroke="#555555" stroke-width="1.61" fill="none" opacity="0.7"/>
<path d="M505.5,333.3 C513.7,343.1 521.5,353.1 531.3,361.3" stroke="#3e3e3e" stroke-width="0.91" fill="none" opacity="0.7"/>
<path d="M543.3,355.0 C546.5,361.1 551.1,365.9 556.9,369.6" stroke="#484848" stroke-width="1.11" fill="none" opacity="0.7"/>
<path d="M498.9,339.9 C510.4,353.0 521.7,366.3 532.6,380.0" stroke="#8c8c8c" stroke-width="1.13" fill="none" opacity="0.7"/>
<path d="M546.8,375.4 C553.0,382.6 557.8,391.3 564.4,398.2" stroke="#d4d4d4" stroke-width="0.47" fill="none" opacity="0.7"/>
<path d="M466.5,319.2 C475.6,330.4 485.6,340.8 496.6,350.3" stroke="#acacac" stroke-width="0.83" fill="none" opacity="0.7"/>
<path d="M510.7,368.6 C515.6,374.7 522.9,378.7 529.2,383.7" stroke="#9a9a9a" stroke-width="0.45" fill="none" opacity="0.7"/>
<path d="M512.9,321.7 C518.3,324.8 521.8,329.6 526.7,333.0" stroke="#9a9a9a" stroke-width="0.47" fill="none" opacity="0.7"/>
<path d="M555.1,356.6 C565.1,371.0 578.5,382.2 588.3,396.7" stroke="#8c8c8c" stroke-width="0.74" fill="none" opacity="0.7"/>
<path d="M510.4,356.4 C521.9,369.6 534.1,382.0 544.5,396.2" stroke="#c0c0c0" stroke-width="0.94" fill="none" opacity="0.7"/>
<path d="M521.3,354.5 C530.8,366.1 542.6,375.6 551.5,387.8" stroke="#8c8c8c" stroke-width="0.68" fill="none" opacity="0.7"/>
<path d="M526.7,322.7 C531.1,327.9 537.3,331.3 540.8,337.3" stroke="#e8e8e8" stroke-width="1.04" fill="none" opacity="0.7"/>
<path d="M514.0,341.6 C518.3,347.8 525.4,351.5 531.2,356.4" stroke="#d4d4d4" stroke-width="0.71" fill="none" opacity="0.7"/>
<path d="M498.7,331.2 C509.6,344.6 522.6,355.9 534.7,368.0" stroke="#d4d4d4" stroke-width="1.13" fill="none" opacity="0.7"/>
<path d="M468.0,316.7 C477.6,323.9 486.1,332.3 493.6,341.4" stroke="#9a9a9a" stroke-width="0.59" fill="none" opacity="0.7"/>
<path d="M519.6,365.7 C525.0,372.2 531.2,378.1 535.1,386.1" stroke="#c0c0c0" stroke-width="0.90" fill="none" opacity="0.7"/>
<path d="M506.7,370.2 C518.3,382.2 527.9,396.2 540.2,407.5" stroke="#e8e8e8" stroke-width="0.79" fill="none" opacity="0.7"/>
<path d="M490.2,301.5 C503.8,313.4 515.5,327.0 527.7,340.1" stroke="#c0c0c0" stroke-width="1.03" fill="none" opacity="0.7"/>
<path d="M569.1,375.1 C580.7,387.8 593.9,399.1 606.2,411.1" stroke="#acacac" stroke-width="0.88" fill="none" opacity="0.7"/>
<path d="M503.3,307.4 C507.9,316.4 515.7,322.5 522.0,330.1" stroke="#9a9a9a" stroke-width="0.61" fill="none" opacity="0.7"/>
<path d="M489.7,318.9 C497.7,332.8 508.3,344.3 519.0,355.7" stroke="#e8e8e8" stroke-width="0.68" fill="none" opacity="0.7"/>
<path d="M516.1,357.7 C529.8,368.5 539.3,383.1 551.6,395.1" stroke="#9a9a9a" stroke-width="0.64" fill="none" opacity="0.7"/>
<path d="M502.4,351.8 C511.9,366.9 525.8,377.9 536.7,391.8" stroke="#9a9a9a" stroke-width="0.80" fill="none" opacity="0.7"/>
<path d="M541.3,407.4 C547.4,415.0 552.6,423.5 560.3,429.6" stroke="#e8e8e8" stroke-width="0.69" fill="none" opacity="0.7"/>
<path d="M478.9,321.4 C484.6,330.8 492.3,338.2 500.2,345.6" stroke="#e8e8e8" stroke-width="1.09" fill="none" opacity="0.7"/>
<path d="M510.0,354.5 C514.3,363.4 520.4,370.5 526.9,377.4" stroke="#8c8c8c" stroke-width="0.57" fill="none" opacity="0.7"/>
<path d="M496.7,335.9 C504.6,342.8 511.6,350.6 518.6,358.5" stroke="#8c8c8c" stroke-width="0.47" fill="none" opacity="0.7"/>
<path d="M520.3,328.4 C525.2,333.5 529.3,339.2 533.6,344.8" stroke="#acacac" stroke-width="1.06" fill="none" opacity="0.7"/>
<path d="M503.0,305.0 C507.5,310.1 513.8,313.5 517.8,319.2" stroke="#acacac" stroke-width="0.87" fill="none" opacity="0.7"/>
<path d="M512.0,311.0 C516.3,317.4 522.5,322.0 525.0,330.2" stroke="#acacac" stroke-width="1.14" fill="none" opacity="0.7"/>
<path d="M506.6,312.4 C512.4,317.3 516.1,324.2 522.2,328.8" stroke="#8c8c8c" stroke-width="0.72" fill="none" opacity="0.7"/>
<path d="M551.0,401.4 C562.0,412.9 574.7,422.8 584.5,435.4" stroke="#c0c0c0" stroke-width="0.65" fill="none" opacity="0.7"/>
<path d="M526.1,353.4 C531.8,359.3 538.1,364.8 541.7,372.7" stroke="#c0c0c0" stroke-width="1.01" fill="none" opacity="0.7"/>
<path d="M507.9,368.8 C515.9,375.2 521.0,384.3 527.1,392.6" stroke="#9a9a9a" stroke-width="1.20" fill="none" opacity="0.7"/>
<path d="M549.0,395.6 C555.8,407.1 564.2,416.9 575.1,424.5" stroke="#acacac" stroke-width="0.86" fill="none" opacity="0.7"/>
<path d="M497.5,341.6 C509.2,354.9 522.4,366.8 531.7,382.4" stroke="#d4d4d4" stroke-width="0.59" fill="none" opacity="0.7"/>
<path d="M518.6,358.5 C525.3,360.9 527.9,367.4 531.7,372.5" stroke="#c0c0c0" stroke-width="0.88" fill="none" opacity="0.7"/>
<path d="M558.3,368.3 C566.8,373.2 572.1,381.1 577.6,388.7" stroke="#d4d4d4" stroke-width="0.88" fill="none" opacity="0.7"/>
<path d="M502.5,358.0 C509.4,366.4 516.5,374.6 526.7,380.0" stroke="#8c8c8c" stroke-width="1.08" fill="none" opacity="0.7"/>
<path d="M512.5,375.7 C523.9,384.1 532.6,395.1 543.3,404.2" stroke="#9a9a9a" stroke-width="0.71" fill="none" opacity="0.7"/>
<path d="M489.5,322.9 C497.0,332.9 506.1,341.3 513.5,351.3" stroke="#e8e8e8" stroke-width="0.98" fill="none" opacity="0.7"/>
<path d="M501.2,350.5 C508.7,360.1 515.1,370.6 523.3,379.6" stroke="#9a9a9a" stroke-width="1.01" fill="none" opacity="0.7"/>
<path d="M507.1,359.0 C519.7,372.7 533.7,384.9 546.3,398.6" stroke="#9a9a9a" stroke-width="0.49" fill="none" opacity="0.7"/>
<path d="M488.6,350.1 C498.3,358.0 503.8,369.7 514.2,377.0" stroke="#9a9a9a" stroke-width="1.12" fill="none" opacity="0.7"/>
<path d="M518.9,366.8 C528.4,379.0 540.6,388.7 550.9,400.1" stroke="#acacac" stroke-width="0.59" fill="none" opacity="0.7"/>
<path d="M545.7,404.8 C551.1,415.9 560.3,423.4 568.0,432.4" stroke="#d4d4d4" stroke-width="1.10" fill="none" opacity="0.7"/>
<path d="M520.0,388.1 C531.0,401.1 542.4,413.6 555.3,424.8" stroke="#8c8c8c" stroke-width="1.00" fill="none" opacity="0.7"/>
<path d="M548.9,390.2 C555.8,393.3 559.1,399.6 562.4,405.8" stroke="#e8e8e8" stroke-width="0.64" fill="none" opacity="0.7"/>
<path d="M470.6,315.3 C475.9,321.1 481.0,327.1 487.6,331.7" stroke="#8c8c8c" stroke-width="0.87" fill="none" opacity="0.7"/>
<path d="M496.7,292.4 C507.8,305.7 518.2,319.7 529.8,332.5" stroke="#acacac" stroke-width="1.10" fill="none" opacity="0.7"/>
<path d="M560.9,371.7 C570.1,383.2 578.2,395.5 588.0,406.3" stroke="#e8e8e8" stroke-width="0.54" fill="none" opacity="0.7"/>
<path d="M545.7,408.7 C552.7,413.4 556.0,421.5 564.3,425.0" stroke="#e8e8e8" stroke-width="0.64" fill="none" opacity="0.7"/>
<path d="M545.8,402.9 C550.5,411.0 558.5,416.1 562.7,424.6" stroke="#acacac" stroke-width="0.73" fill="none" opacity="0.7"/>
<path d="M560.3,372.6 C566.6,376.6 570.0,383.2 575.6,387.8" stroke="#c0c0c0" stroke-width="1.03" fill="none" opacity="0.7"/>
<path d="M536.5,361.2 C549.3,372.7 560.7,385.5 570.4,399.9" stroke="#8c8c8c" stroke-width="0.58" fill="none" opacity="0.7"/>
<path d="M547.5,352.1 C552.7,363.1 563.3,369.1 568.5,380.1" stroke="#e8e8e8" stroke-width="0.88" fill="none" opacity="0.7"/>
<path d="M507.0,319.7 C517.3,332.0 526.7,345.2 539.3,355.5" stroke="#c0c0c0" stroke-width="0.99" fill="none" opacity="0.7"/>
<path d="M558.9,362.1 C564.9,366.8 569.1,373.2 575.3,377.8" stroke="#e8e8e8" stroke-width="1.14" fill="none" opacity="0.7"/>
<path d="M491.4,322.3 C501.0,330.8 508.8,341.1 517.1,350.9" stroke="#9a9a9a" stroke-width="0.63" fill="none" opacity="0.7"/>
<path d="M517.1,374.7 C530.3,387.6 542.6,401.3 554.6,415.3" stroke="#e8e8e8" stroke-width="0.89" fill="none" opacity="0.7"/>
<path d="M522.4,337.2 C533.0,348.7 545.5,358.5 555.3,370.8" stroke="#d4d4d4" stroke-width="1.08" fill="none" opacity="0.7"/>
<path d="M493.3,334.1 C501.9,337.4 506.2,344.6 510.4,351.9" stroke="#c0c0c0" stroke-width="0.52" fill="none" opacity="0.7"/>
<path d="M536.1,333.8 C544.4,341.5 550.3,351.4 560.3,357.5" stroke="#d4d4d4" stroke-width="0.86" fill="none" opacity="0.7"/>
<path d="M542.5,377.4 C547.9,384.3 554.7,389.9 559.7,397.0" stroke="#9a9a9a" stroke-width="0.99" fill="none" opacity="0.7"/>
<path d="M530.0,384.6 C538.7,393.1 547.3,401.5 556.0,410.0" stroke="#acacac" stroke-width="0.95" fill="none" opacity="0.7"/>
<path d="M530.7,387.5 C535.2,392.1 540.0,396.3 541.9,403.3" stroke="#e8e8e8" stroke-width="0.50" fill="none" opacity="0.7"/>
<path d="M516.9,369.2 C522.6,373.9 526.1,380.7 534.2,383.1" stroke="#acacac" stroke-width="1.11" fill="none" opacity="0.7"/>
<path d="M523.0,328.6 C530.6,334.5 537.2,341.4 540.5,351.2" stroke="#8c8c8c" stroke-width="0.89" fill="none" opacity="0.7"/>
<path d="M494.5,309.1 C506.9,320.4 517.9,333.1 529.0,345.7" stroke="#9a9a9a" stroke-width="0.57" fill="none" opacity="0.7"/>
<path d="M537.4,347.6 C550.6,360.7 562.1,375.3 574.8,388.8" stroke="#d4d4d4" stroke-width="0.77" fill="none" opacity="0.7"/>
<path d="M550.3,378.8 C559.3,384.9 566.1,393.0 573.8,400.3" stroke="#9a9a9a" stroke-width="1.04" fill="none" opacity="0.7"/>
<path d="M510.1,341.8 C520.1,350.7 529.1,360.6 537.8,370.7" stroke="#d4d4d4" stroke-width="1.09" fill="none" opacity="0.7"/>
<path d="M519.0,330.7 C524.5,334.5 529.3,339.0 534.5,343.1" stroke="#d4d4d4" stroke-width="0.99" fill="none" opacity="0.7"/>
<path d="M524.7,356.3 C534.6,366.3 544.3,376.5 551.7,388.8" stroke="#c0c0c0" stroke-width="0.51" fill="none" opacity="0.7"/>
<path d="M554.9,374.0 C560.2,378.8 566.3,382.8 569.9,389.3" stroke="#acacac" stroke-width="0.66" fill="none" opacity="0.7"/>
<path d="M510.6,361.3 C515.4,365.5 520.3,369.5 524.3,374.5" stroke="#9a9a9a" stroke-width="0.50" fill="none" opacity="0.7"/>
<path d="M521.2,333.3 C529.8,341.5 537.8,350.2 546.6,358.2" stroke="#acacac" stroke-width="0.93" fill="none" opacity="0.7"/>
<path d="M506.2,312.7 C513.5,318.6 519.8,325.3 524.5,333.5" stroke="#d4d4d4" stroke-width="0.48" fill="none" opacity="0.7"/>
</g>
<g clip-path="url(#cl)">
<path d="M530.7,450.1 C521.4,462.3 510.5,473.0 501.1,485.0" stroke="#5e5e5e" stroke-width="1.77" fill="none" opacity="0.7"/>
<path d="M532.9,435.1 C522.2,445.9 513.5,458.4 501.3,468.0" stroke="#3e3e3e" stroke-width="1.61" fill="none" opacity="0.7"/>
<path d="M554.0,444.9 C542.6,458.0 533.9,473.4 520.0,484.4" stroke="#484848" stroke-width="0.93" fill="none" opacity="0.7"/>
<path d="M481.0,458.4 C477.2,465.0 471.8,470.3 466.0,475.3" stroke="#484848" stroke-width="2.17" fill="none" opacity="0.7"/>
<path d="M519.8,423.7 C509.7,432.3 501.2,442.2 493.6,452.8" stroke="#5e5e5e" stroke-width="1.56" fill="none" opacity="0.7"/>
<path d="M568.6,383.6 C564.9,391.7 557.1,396.5 551.8,403.4" stroke="#5e5e5e" stroke-width="1.74" fill="none" opacity="0.7"/>
<path d="M582.0,420.6 C573.9,428.3 568.0,437.6 562.6,447.4" stroke="#5e5e5e" stroke-width="0.85" fill="none" opacity="0.7"/>
<path d="M550.4,469.5 C544.8,473.5 540.2,478.1 537.8,484.7" stroke="#3e3e3e" stroke-width="1.77" fill="none" opacity="0.7"/>
<path d="M581.8,427.5 C576.9,437.4 568.7,444.6 562.7,453.6" stroke="#555555" stroke-width="1.44" fill="none" opacity="0.7"/>
<path d="M500.6,459.0 C496.5,467.7 490.2,474.6 485.6,482.8" stroke="#484848" stroke-width="2.08" fill="none" opacity="0.7"/>
<path d="M584.9,428.7 C574.6,441.8 564.8,455.3 554.0,468.1" stroke="#3e3e3e" stroke-width="2.18" fill="none" opacity="0.7"/>
<path d="M517.9,413.4 C512.3,416.9 508.1,421.7 504.8,427.1" stroke="#484848" stroke-width="1.90" fill="none" opacity="0.7"/>
<path d="M541.5,430.6 C535.4,439.6 527.5,447.2 521.5,456.4" stroke="#3e3e3e" stroke-width="1.19" fill="none" opacity="0.7"/>
<path d="M518.2,415.6 C509.9,429.1 499.7,440.9 489.8,453.1" stroke="#3e3e3e" stroke-width="1.77" fill="none" opacity="0.7"/>
<path d="M527.6,486.6 C519.4,495.1 510.0,502.7 503.9,513.0" stroke="#555555" stroke-width="1.86" fill="none" opacity="0.7"/>
<path d="M537.0,443.6 C525.9,458.4 514.9,473.4 503.0,487.6" stroke="#5e5e5e" stroke-width="1.59" fill="none" opacity="0.7"/>
<path d="M545.9,471.7 C533.8,485.7 521.9,500.0 511.4,515.3" stroke="#5e5e5e" stroke-width="1.91" fill="none" opacity="0.7"/>
<path d="M556.4,391.6 C550.5,399.4 545.0,407.5 538.4,414.6" stroke="#484848" stroke-width="1.55" fill="none" opacity="0.7"/>
<path d="M541.0,413.8 C535.3,421.3 528.1,427.5 523.9,436.3" stroke="#3e3e3e" stroke-width="1.81" fill="none" opacity="0.7"/>
<path d="M576.8,406.9 C567.6,419.3 558.7,431.9 548.8,443.7" stroke="#5e5e5e" stroke-width="1.48" fill="none" opacity="0.7"/>
<path d="M553.4,458.2 C548.2,469.9 539.9,479.0 529.6,486.5" stroke="#555555" stroke-width="1.19" fill="none" opacity="0.7"/>
<path d="M559.9,436.0 C555.6,444.1 549.1,450.5 545.2,459.0" stroke="#5e5e5e" stroke-width="1.34" fill="none" opacity="0.7"/>
<path d="M523.2,452.2 C517.8,463.8 507.5,471.3 500.8,481.9" stroke="#5e5e5e" stroke-width="1.53" fill="none" opacity="0.7"/>
<path d="M581.5,389.1 C577.6,395.5 571.3,400.0 569.1,407.8" stroke="#5e5e5e" stroke-width="2.05" fill="none" opacity="0.7"/>
<path d="M561.6,392.8 C555.8,404.4 546.6,413.1 538.8,423.0" stroke="#555555" stroke-width="1.20" fill="none" opacity="0.7"/>
<path d="M511.0,423.9 C503.7,432.6 498.4,443.0 491.8,452.4" stroke="#3e3e3e" stroke-width="1.98" fill="none" opacity="0.7"/>
<path d="M512.0,456.4 C505.8,466.4 497.8,475.0 490.5,484.1" stroke="#5e5e5e" stroke-width="2.12" fill="none" opacity="0.7"/>
<path d="M551.7,386.7 C543.4,401.8 532.1,414.4 519.2,425.8" stroke="#555555" stroke-width="2.17" fill="none" opacity="0.7"/>
<path d="M499.6,443.7 C486.2,456.0 475.2,470.2 463.5,483.7" stroke="#555555" stroke-width="0.86" fill="none" opacity="0.7"/>
<path d="M551.0,388.3 C545.0,394.6 539.3,401.2 534.5,408.5" stroke="#3e3e3e" stroke-width="1.65" fill="none" opacity="0.7"/>
<path d="M545.1,466.8 C536.3,476.9 527.3,486.9 518.3,496.8" stroke="#5e5e5e" stroke-width="1.69" fill="none" opacity="0.7"/>
<path d="M532.0,447.3 C524.5,455.8 516.5,464.0 510.8,474.0" stroke="#484848" stroke-width="1.49" fill="none" opacity="0.7"/>
<path d="M507.9,436.9 C496.5,452.5 484.3,467.4 471.3,481.7" stroke="#3e3e3e" stroke-width="1.97" fill="none" opacity="0.7"/>
<path d="M597.1,403.7 C592.4,409.6 587.9,415.4 582.3,420.5" stroke="#3e3e3e" stroke-width="1.76" fill="none" opacity="0.7"/>
<path d="M502.4,472.1 C491.5,483.9 480.8,495.9 471.9,509.4" stroke="#5e5e5e" stroke-width="1.68" fill="none" opacity="0.7"/>
<path d="M555.8,416.3 C546.3,428.0 538.2,440.7 527.7,451.5" stroke="#555555" stroke-width="2.13" fill="none" opacity="0.7"/>
<path d="M496.4,440.2 C484.6,455.0 470.4,467.9 459.4,483.4" stroke="#555555" stroke-width="0.82" fill="none" opacity="0.7"/>
<path d="M554.7,440.2 C544.7,452.9 535.8,466.5 525.4,478.8" stroke="#5e5e5e" stroke-width="1.28" fill="none" opacity="0.7"/>
<path d="M512.9,431.8 C502.7,442.2 493.7,453.7 483.4,464.1" stroke="#5e5e5e" stroke-width="1.84" fill="none" opacity="0.7"/>
<path d="M559.3,433.1 C554.9,439.1 551.8,446.1 545.8,450.7" stroke="#555555" stroke-width="1.33" fill="none" opacity="0.7"/>
<path d="M563.2,425.5 C550.0,440.3 537.5,455.7 525.8,471.9" stroke="#5e5e5e" stroke-width="2.05" fill="none" opacity="0.7"/>
<path d="M509.1,426.0 C502.2,439.2 492.3,449.9 480.8,459.3" stroke="#5e5e5e" stroke-width="0.86" fill="none" opacity="0.7"/>
<path d="M546.4,442.7 C534.0,455.3 525.2,470.8 512.9,483.5" stroke="#3e3e3e" stroke-width="1.74" fill="none" opacity="0.7"/>
<path d="M561.1,438.0 C556.9,447.3 550.7,455.0 542.9,461.4" stroke="#484848" stroke-width="1.63" fill="none" opacity="0.7"/>
<path d="M502.6,478.3 C496.5,489.3 488.4,498.6 480.9,508.4" stroke="#484848" stroke-width="1.13" fill="none" opacity="0.7"/>
<path d="M520.7,453.6 C512.6,463.8 504.0,473.5 497.0,484.5" stroke="#555555" stroke-width="0.99" fill="none" opacity="0.7"/>
<path d="M547.0,465.7 C541.9,474.5 534.8,481.7 527.7,488.9" stroke="#5e5e5e" stroke-width="1.61" fill="none" opacity="0.7"/>
<path d="M564.4,438.0 C552.2,450.7 540.8,464.0 530.6,478.3" stroke="#484848" stroke-width="0.97" fill="none" opacity="0.7"/>
<path d="M535.3,406.6 C526.0,415.6 520.5,427.6 512.1,437.3" stroke="#555555" stroke-width="2.10" fill="none" opacity="0.7"/>
<path d="M549.8,416.5 C544.8,423.5 540.0,430.7 533.8,436.7" stroke="#555555" stroke-width="0.85" fill="none" opacity="0.7"/>
<path d="M543.8,424.6 C534.2,433.2 527.4,444.2 518.3,453.3" stroke="#3e3e3e" stroke-width="1.41" fill="none" opacity="0.7"/>
<path d="M565.1,450.8 C559.2,460.1 549.4,466.2 543.7,475.8" stroke="#5e5e5e" stroke-width="1.56" fill="none" opacity="0.7"/>
<path d="M537.1,406.9 C522.7,419.0 511.8,434.0 499.7,448.0" stroke="#555555" stroke-width="1.11" fill="none" opacity="0.7"/>
<path d="M520.7,466.1 C509.4,478.0 499.3,490.9 488.3,503.0" stroke="#555555" stroke-width="1.77" fill="none" opacity="0.7"/>
<path d="M537.1,454.9 C523.7,466.5 515.1,482.0 503.7,495.2" stroke="#484848" stroke-width="1.05" fill="none" opacity="0.7"/>
<path d="M496.6,456.5 C483.5,471.1 470.2,485.5 459.0,501.6" stroke="#5e5e5e" stroke-width="1.78" fill="none" opacity="0.7"/>
<path d="M503.0,455.7 C491.0,467.0 481.6,480.6 472.0,494.0" stroke="#3e3e3e" stroke-width="2.10" fill="none" opacity="0.7"/>
<path d="M566.1,417.3 C556.9,428.5 548.8,440.6 538.6,451.0" stroke="#3e3e3e" stroke-width="1.22" fill="none" opacity="0.7"/>
<path d="M540.6,400.0 C527.6,414.0 513.4,426.9 502.2,442.3" stroke="#484848" stroke-width="2.04" fill="none" opacity="0.7"/>
<path d="M522.0,494.2 C511.9,504.7 502.7,515.8 495.7,528.8" stroke="#555555" stroke-width="1.89" fill="none" opacity="0.7"/>
<path d="M511.5,477.6 C501.8,483.0 495.5,491.2 489.6,499.9" stroke="#5e5e5e" stroke-width="2.06" fill="none" opacity="0.7"/>
<path d="M513.5,429.8 C503.0,443.7 490.8,456.3 481.8,471.6" stroke="#484848" stroke-width="1.74" fill="none" opacity="0.7"/>
<path d="M518.2,460.1 C508.6,472.6 499.1,485.3 489.4,497.7" stroke="#484848" stroke-width="1.54" fill="none" opacity="0.7"/>
<path d="M489.9,472.4 C486.6,479.4 481.6,485.1 477.4,491.5" stroke="#5e5e5e" stroke-width="2.18" fill="none" opacity="0.7"/>
<path d="M531.6,426.9 C524.6,436.7 514.3,443.8 506.9,453.2" stroke="#484848" stroke-width="1.71" fill="none" opacity="0.7"/>
<path d="M555.5,450.9 C549.4,456.6 545.5,464.2 540.0,470.4" stroke="#5e5e5e" stroke-width="1.84" fill="none" opacity="0.7"/>
<path d="M524.2,488.4 C511.0,500.7 501.0,515.7 490.8,530.4" stroke="#5e5e5e" stroke-width="1.91" fill="none" opacity="0.7"/>
<path d="M485.7,453.2 C477.5,463.5 468.8,473.4 461.7,484.6" stroke="#5e5e5e" stroke-width="1.03" fill="none" opacity="0.7"/>
<path d="M514.3,486.0 C503.5,500.8 493.3,515.9 479.0,527.7" stroke="#484848" stroke-width="2.15" fill="none" opacity="0.7"/>
<path d="M512.2,453.7 C503.4,464.3 496.9,476.7 487.8,487.0" stroke="#484848" stroke-width="1.36" fill="none" opacity="0.7"/>
<path d="M572.3,387.7 C562.3,398.9 552.8,410.6 544.2,423.0" stroke="#555555" stroke-width="0.90" fill="none" opacity="0.7"/>
<path d="M563.8,434.5 C555.9,450.8 544.3,464.2 533.3,478.1" stroke="#555555" stroke-width="1.17" fill="none" opacity="0.7"/>
<path d="M563.8,385.8 C552.7,396.3 542.6,407.5 532.5,418.8" stroke="#5e5e5e" stroke-width="1.95" fill="none" opacity="0.7"/>
<path d="M539.1,408.4 C533.6,416.7 526.6,423.7 520.7,431.6" stroke="#555555" stroke-width="2.04" fill="none" opacity="0.7"/>
<path d="M532.3,470.3 C524.0,479.8 516.2,489.8 507.4,498.9" stroke="#5e5e5e" stroke-width="1.75" fill="none" opacity="0.7"/>
<path d="M488.6,459.4 C481.4,468.4 474.0,477.1 468.8,487.6" stroke="#484848" stroke-width="1.65" fill="none" opacity="0.7"/>
<path d="M516.5,495.0 C504.9,508.4 492.2,520.9 483.3,536.6" stroke="#3e3e3e" stroke-width="2.02" fill="none" opacity="0.7"/>
<path d="M558.5,428.0 C553.8,437.5 547.3,445.5 541.0,453.7" stroke="#484848" stroke-width="0.91" fill="none" opacity="0.7"/>
<path d="M560.3,427.6 C554.3,436.1 546.8,443.4 541.3,452.3" stroke="#555555" stroke-width="1.39" fill="none" opacity="0.7"/>
<path d="M587.9,395.7 C583.6,402.3 577.8,407.6 573.3,414.1" stroke="#484848" stroke-width="1.21" fill="none" opacity="0.7"/>
<path d="M537.4,479.2 C530.2,492.8 519.4,503.4 508.2,513.6" stroke="#555555" stroke-width="1.09" fill="none" opacity="0.7"/>
<path d="M510.2,427.3 C503.3,431.0 500.1,437.7 495.0,442.9" stroke="#484848" stroke-width="1.68" fill="none" opacity="0.7"/>
<path d="M543.7,406.4 C540.4,413.3 534.2,417.7 529.0,422.9" stroke="#3e3e3e" stroke-width="1.46" fill="none" opacity="0.7"/>
<path d="M542.6,473.0 C531.1,485.2 523.2,500.2 511.7,512.4" stroke="#5e5e5e" stroke-width="2.01" fill="none" opacity="0.7"/>
<path d="M579.8,400.0 C574.3,411.9 563.5,419.5 556.8,430.5" stroke="#5e5e5e" stroke-width="1.89" fill="none" opacity="0.7"/>
<path d="M524.0,443.1 C516.8,453.6 508.9,463.5 501.3,473.6" stroke="#484848" stroke-width="1.62" fill="none" opacity="0.7"/>
<path d="M496.8,441.8 C491.7,451.3 484.2,458.8 477.3,466.8" stroke="#3e3e3e" stroke-width="1.09" fill="none" opacity="0.7"/>
<path d="M498.4,452.6 C493.4,456.5 489.9,461.8 485.2,466.0" stroke="#5e5e5e" stroke-width="1.73" fill="none" opacity="0.7"/>
<path d="M521.8,485.8 C511.3,501.0 500.4,515.9 489.2,530.4" stroke="#5e5e5e" stroke-width="2.18" fill="none" opacity="0.7"/>
<path d="M527.0,493.1 C522.8,499.3 519.9,506.5 513.6,510.9" stroke="#555555" stroke-width="1.43" fill="none" opacity="0.7"/>
<path d="M538.3,422.2 C531.0,435.8 519.2,445.7 509.4,457.2" stroke="#3e3e3e" stroke-width="1.55" fill="none" opacity="0.7"/>
<path d="M567.8,393.5 C565.1,402.6 556.7,406.9 553.8,415.8" stroke="#5e5e5e" stroke-width="1.41" fill="none" opacity="0.7"/>
<path d="M509.3,424.9 C501.0,441.1 488.7,453.9 477.9,468.0" stroke="#5e5e5e" stroke-width="0.95" fill="none" opacity="0.7"/>
<path d="M521.6,439.3 C514.9,446.5 510.2,455.5 503.8,463.0" stroke="#484848" stroke-width="1.09" fill="none" opacity="0.7"/>
<path d="M544.5,427.1 C534.1,440.3 523.9,453.6 513.5,466.8" stroke="#3e3e3e" stroke-width="1.88" fill="none" opacity="0.7"/>
<path d="M534.4,476.0 C523.3,488.5 512.3,501.1 501.8,514.1" stroke="#5e5e5e" stroke-width="0.88" fill="none" opacity="0.7"/>
<path d="M575.6,420.6 C564.7,428.1 558.7,439.6 551.7,450.3" stroke="#484848" stroke-width="1.77" fill="none" opacity="0.7"/>
<path d="M537.2,448.2 C531.1,453.2 527.4,460.2 519.4,463.6" stroke="#555555" stroke-width="1.23" fill="none" opacity="0.7"/>
<path d="M597.8,395.4 C587.0,411.6 574.1,426.0 562.2,441.3" stroke="#555555" stroke-width="0.94" fill="none" opacity="0.7"/>
<path d="M556.0,388.9 C546.2,399.3 537.9,410.9 530.4,423.0" stroke="#5e5e5e" stroke-width="1.32" fill="none" opacity="0.7"/>
<path d="M514.6,461.2 C501.0,475.3 489.0,490.8 474.7,504.4" stroke="#acacac" stroke-width="0.58" fill="none" opacity="0.7"/>
<path d="M514.5,421.3 C504.4,436.3 493.3,450.4 481.0,463.5" stroke="#acacac" stroke-width="1.06" fill="none" opacity="0.7"/>
<path d="M505.0,466.9 C490.2,480.1 480.0,497.1 467.1,511.8" stroke="#d4d4d4" stroke-width="1.01" fill="none" opacity="0.7"/>
<path d="M570.3,391.8 C557.3,404.2 544.7,416.9 535.7,432.6" stroke="#acacac" stroke-width="0.84" fill="none" opacity="0.7"/>
<path d="M580.8,421.4 C566.0,434.3 555.4,450.7 542.2,464.9" stroke="#d4d4d4" stroke-width="1.08" fill="none" opacity="0.7"/>
<path d="M504.3,468.7 C496.2,474.5 492.1,483.7 486.4,491.5" stroke="#d4d4d4" stroke-width="1.10" fill="none" opacity="0.7"/>
<path d="M522.7,421.2 C513.0,430.3 505.6,441.3 498.2,452.3" stroke="#9a9a9a" stroke-width="0.80" fill="none" opacity="0.7"/>
<path d="M566.3,387.7 C559.8,398.3 550.7,406.8 543.3,416.7" stroke="#8c8c8c" stroke-width="0.50" fill="none" opacity="0.7"/>
<path d="M568.8,393.3 C561.6,404.2 553.1,414.0 545.2,424.3" stroke="#c0c0c0" stroke-width="0.77" fill="none" opacity="0.7"/>
<path d="M517.2,479.4 C508.3,490.8 499.2,502.1 491.0,514.1" stroke="#8c8c8c" stroke-width="0.62" fill="none" opacity="0.7"/>
<path d="M561.5,454.5 C550.8,466.6 539.1,477.8 529.4,490.7" stroke="#d4d4d4" stroke-width="1.17" fill="none" opacity="0.7"/>
<path d="M550.6,408.9 C547.2,415.5 540.3,419.1 536.3,425.2" stroke="#c0c0c0" stroke-width="0.81" fill="none" opacity="0.7"/>
<path d="M525.6,496.7 C514.6,510.2 504.1,524.0 493.7,537.9" stroke="#8c8c8c" stroke-width="0.48" fill="none" opacity="0.7"/>
<path d="M535.6,406.6 C528.7,413.7 523.8,422.4 517.9,430.3" stroke="#9a9a9a" stroke-width="1.06" fill="none" opacity="0.7"/>
<path d="M585.8,398.2 C576.8,406.6 570.6,417.3 561.2,425.3" stroke="#acacac" stroke-width="0.80" fill="none" opacity="0.7"/>
<path d="M534.3,449.9 C528.6,457.0 521.7,463.1 516.8,470.8" stroke="#9a9a9a" stroke-width="0.98" fill="none" opacity="0.7"/>
<path d="M517.8,467.9 C508.3,478.2 502.2,491.3 491.2,500.3" stroke="#8c8c8c" stroke-width="0.72" fill="none" opacity="0.7"/>
<path d="M589.1,391.9 C578.1,406.6 566.0,420.6 552.8,433.6" stroke="#8c8c8c" stroke-width="0.58" fill="none" opacity="0.7"/>
<path d="M515.3,462.7 C510.8,467.4 507.9,473.5 502.7,477.6" stroke="#c0c0c0" stroke-width="0.95" fill="none" opacity="0.7"/>
<path d="M570.2,374.7 C556.2,388.8 543.1,403.6 530.8,419.0" stroke="#c0c0c0" stroke-width="0.96" fill="none" opacity="0.7"/>
<path d="M558.9,369.2 C548.6,382.9 538.9,397.1 527.7,410.1" stroke="#9a9a9a" stroke-width="0.77" fill="none" opacity="0.7"/>
<path d="M519.5,417.9 C507.2,428.7 498.4,442.4 487.2,454.0" stroke="#8c8c8c" stroke-width="0.70" fill="none" opacity="0.7"/>
<path d="M522.5,417.5 C517.0,428.0 507.2,435.1 500.7,444.8" stroke="#9a9a9a" stroke-width="1.11" fill="none" opacity="0.7"/>
<path d="M519.9,429.9 C509.3,439.0 502.2,451.0 491.8,460.3" stroke="#d4d4d4" stroke-width="0.49" fill="none" opacity="0.7"/>
<path d="M592.4,391.6 C589.7,398.0 584.9,402.7 580.2,407.4" stroke="#e8e8e8" stroke-width="0.73" fill="none" opacity="0.7"/>
<path d="M523.0,430.8 C516.2,444.7 505.2,455.1 496.5,467.5" stroke="#9a9a9a" stroke-width="0.82" fill="none" opacity="0.7"/>
<path d="M532.6,427.4 C529.0,433.5 523.8,438.4 518.1,442.7" stroke="#c0c0c0" stroke-width="0.71" fill="none" opacity="0.7"/>
<path d="M511.3,465.3 C501.1,479.7 490.5,493.7 479.7,507.5" stroke="#c0c0c0" stroke-width="0.90" fill="none" opacity="0.7"/>
<path d="M560.0,458.3 C548.7,468.8 539.2,480.8 529.0,492.2" stroke="#c0c0c0" stroke-width="1.12" fill="none" opacity="0.7"/>
<path d="M537.6,464.0 C529.0,474.5 519.5,484.3 510.8,494.8" stroke="#e8e8e8" stroke-width="0.60" fill="none" opacity="0.7"/>
<path d="M540.6,430.6 C528.2,443.7 515.1,456.3 503.7,470.3" stroke="#e8e8e8" stroke-width="0.80" fill="none" opacity="0.7"/>
<path d="M569.9,371.1 C562.8,382.9 552.8,392.4 543.1,402.1" stroke="#d4d4d4" stroke-width="0.78" fill="none" opacity="0.7"/>
<path d="M516.2,493.9 C510.7,503.4 504.1,511.8 496.9,519.8" stroke="#9a9a9a" stroke-width="0.54" fill="none" opacity="0.7"/>
<path d="M569.3,388.9 C566.0,395.2 560.7,399.9 555.1,404.3" stroke="#d4d4d4" stroke-width="1.15" fill="none" opacity="0.7"/>
<path d="M562.5,441.8 C556.5,449.2 552.7,458.5 546.2,465.6" stroke="#8c8c8c" stroke-width="1.18" fill="none" opacity="0.7"/>
<path d="M517.3,454.8 C508.8,464.9 502.3,476.6 493.8,486.5" stroke="#c0c0c0" stroke-width="0.58" fill="none" opacity="0.7"/>
<path d="M590.2,396.2 C582.6,410.6 569.7,420.5 562.1,434.8" stroke="#acacac" stroke-width="1.19" fill="none" opacity="0.7"/>
<path d="M537.2,439.5 C524.2,453.1 512.1,467.5 501.2,482.9" stroke="#c0c0c0" stroke-width="0.59" fill="none" opacity="0.7"/>
<path d="M562.2,376.6 C555.0,390.4 544.1,401.1 535.1,413.4" stroke="#acacac" stroke-width="0.40" fill="none" opacity="0.7"/>
<path d="M548.9,456.7 C542.1,467.8 534.5,478.2 525.9,487.8" stroke="#d4d4d4" stroke-width="0.86" fill="none" opacity="0.7"/>
<path d="M531.1,416.9 C523.5,429.7 511.5,438.9 504.2,452.1" stroke="#e8e8e8" stroke-width="0.49" fill="none" opacity="0.7"/>
<path d="M533.9,478.5 C524.0,490.9 514.6,503.7 502.9,514.5" stroke="#9a9a9a" stroke-width="0.41" fill="none" opacity="0.7"/>
<path d="M519.8,486.1 C511.7,500.0 501.6,512.3 490.5,523.7" stroke="#8c8c8c" stroke-width="0.90" fill="none" opacity="0.7"/>
<path d="M584.7,410.3 C574.1,424.2 561.5,436.5 550.9,450.5" stroke="#8c8c8c" stroke-width="1.15" fill="none" opacity="0.7"/>
<path d="M513.4,422.4 C502.0,436.6 489.1,449.5 478.7,464.5" stroke="#e8e8e8" stroke-width="0.65" fill="none" opacity="0.7"/>
<path d="M569.8,393.9 C560.6,405.5 549.4,415.4 540.3,427.1" stroke="#acacac" stroke-width="0.53" fill="none" opacity="0.7"/>
<path d="M586.8,397.8 C578.6,409.0 569.1,419.2 561.0,430.5" stroke="#c0c0c0" stroke-width="0.84" fill="none" opacity="0.7"/>
<path d="M571.9,391.7 C562.9,406.2 552.2,419.4 542.1,433.0" stroke="#c0c0c0" stroke-width="0.62" fill="none" opacity="0.7"/>
<path d="M583.4,411.2 C576.7,419.4 571.5,428.8 562.8,435.3" stroke="#acacac" stroke-width="0.51" fill="none" opacity="0.7"/>
<path d="M543.9,463.6 C538.3,467.6 534.3,473.0 530.7,478.6" stroke="#9a9a9a" stroke-width="0.99" fill="none" opacity="0.7"/>
<path d="M542.8,386.8 C535.5,395.4 530.8,406.2 521.0,412.8" stroke="#d4d4d4" stroke-width="0.80" fill="none" opacity="0.7"/>
<path d="M567.0,383.0 C562.0,390.2 557.4,397.6 549.9,402.7" stroke="#d4d4d4" stroke-width="1.20" fill="none" opacity="0.7"/>
<path d="M589.2,390.4 C585.4,396.2 579.5,400.4 576.4,406.8" stroke="#c0c0c0" stroke-width="1.17" fill="none" opacity="0.7"/>
<path d="M559.4,387.8 C549.3,398.6 537.8,408.4 530.6,421.7" stroke="#c0c0c0" stroke-width="0.47" fill="none" opacity="0.7"/>
<path d="M522.8,440.1 C514.9,451.1 506.2,461.6 496.8,471.4" stroke="#e8e8e8" stroke-width="0.66" fill="none" opacity="0.7"/>
<path d="M512.2,446.0 C499.7,456.8 490.5,470.2 480.9,483.4" stroke="#c0c0c0" stroke-width="0.61" fill="none" opacity="0.7"/>
<path d="M559.9,414.6 C554.0,419.5 549.1,425.3 543.9,430.8" stroke="#d4d4d4" stroke-width="0.42" fill="none" opacity="0.7"/>
<path d="M588.6,413.8 C582.9,418.1 580.6,425.2 574.8,429.3" stroke="#e8e8e8" stroke-width="1.12" fill="none" opacity="0.7"/>
<path d="M554.2,394.5 C546.2,406.9 536.5,418.0 525.4,428.0" stroke="#c0c0c0" stroke-width="1.07" fill="none" opacity="0.7"/>
<path d="M565.6,397.0 C556.3,407.6 546.2,417.4 537.6,428.6" stroke="#e8e8e8" stroke-width="0.52" fill="none" opacity="0.7"/>
<path d="M570.2,392.9 C566.0,398.4 559.9,402.3 556.2,408.2" stroke="#8c8c8c" stroke-width="0.89" fill="none" opacity="0.7"/>
<path d="M533.5,406.9 C521.1,420.5 509.8,435.1 497.0,448.5" stroke="#d4d4d4" stroke-width="1.13" fill="none" opacity="0.7"/>
<path d="M525.9,423.7 C520.7,429.9 513.0,434.1 507.9,440.5" stroke="#8c8c8c" stroke-width="1.00" fill="none" opacity="0.7"/>
<path d="M571.4,384.0 C562.6,393.9 554.1,404.0 545.2,413.8" stroke="#c0c0c0" stroke-width="1.18" fill="none" opacity="0.7"/>
<path d="M592.9,413.4 C587.0,421.9 579.6,429.1 571.2,435.5" stroke="#e8e8e8" stroke-width="0.89" fill="none" opacity="0.7"/>
<path d="M581.9,414.7 C570.8,426.2 562.4,439.9 551.0,451.2" stroke="#9a9a9a" stroke-width="0.63" fill="none" opacity="0.7"/>
<path d="M556.8,384.2 C546.4,395.4 537.3,407.7 527.1,419.0" stroke="#9a9a9a" stroke-width="0.68" fill="none" opacity="0.7"/>
<path d="M551.5,438.6 C546.3,445.3 540.8,451.7 535.3,458.2" stroke="#d4d4d4" stroke-width="0.62" fill="none" opacity="0.7"/>
<path d="M556.4,433.7 C549.2,441.6 543.0,450.5 538.3,460.4" stroke="#acacac" stroke-width="1.01" fill="none" opacity="0.7"/>
<path d="M544.7,381.8 C532.1,396.0 521.2,411.6 509.0,426.1" stroke="#acacac" stroke-width="0.69" fill="none" opacity="0.7"/>
<path d="M541.4,436.5 C537.9,444.8 532.0,451.1 526.6,457.8" stroke="#9a9a9a" stroke-width="0.59" fill="none" opacity="0.7"/>
<path d="M534.0,446.1 C532.4,453.7 525.0,456.6 523.7,464.5" stroke="#c0c0c0" stroke-width="0.61" fill="none" opacity="0.7"/>
<path d="M522.4,448.8 C519.7,454.6 513.9,457.8 511.0,463.4" stroke="#c0c0c0" stroke-width="0.67" fill="none" opacity="0.7"/>
<path d="M532.7,455.3 C521.5,470.9 509.8,485.9 498.1,501.1" stroke="#e8e8e8" stroke-width="0.88" fill="none" opacity="0.7"/>
<path d="M541.2,424.2 C535.9,434.1 526.9,441.1 520.5,450.2" stroke="#e8e8e8" stroke-width="0.60" fill="none" opacity="0.7"/>
<path d="M532.1,408.6 C521.9,421.9 511.8,435.3 499.7,447.0" stroke="#8c8c8c" stroke-width="0.99" fill="none" opacity="0.7"/>
<path d="M495.4,463.1 C490.6,473.4 482.3,480.8 474.0,488.3" stroke="#8c8c8c" stroke-width="1.15" fill="none" opacity="0.7"/>
<path d="M551.0,386.8 C541.6,398.7 531.6,410.0 524.1,423.5" stroke="#d4d4d4" stroke-width="0.95" fill="none" opacity="0.7"/>
<path d="M587.6,402.1 C579.4,409.6 572.5,418.1 567.1,427.9" stroke="#8c8c8c" stroke-width="1.13" fill="none" opacity="0.7"/>
<path d="M576.6,422.6 C563.9,437.1 550.9,451.4 537.0,465.0" stroke="#e8e8e8" stroke-width="0.96" fill="none" opacity="0.7"/>
<path d="M540.7,473.4 C533.6,483.9 526.5,494.4 516.7,502.7" stroke="#9a9a9a" stroke-width="0.91" fill="none" opacity="0.7"/>
<path d="M560.7,379.6 C552.1,391.8 542.0,402.9 533.4,415.1" stroke="#9a9a9a" stroke-width="0.86" fill="none" opacity="0.7"/>
<path d="M516.1,456.8 C510.4,468.1 501.7,476.8 493.9,486.4" stroke="#c0c0c0" stroke-width="0.48" fill="none" opacity="0.7"/>
<path d="M496.6,455.1 C493.6,463.7 488.1,470.1 481.2,475.5" stroke="#d4d4d4" stroke-width="0.92" fill="none" opacity="0.7"/>
<path d="M493.2,447.6 C488.5,453.2 484.9,459.7 479.5,464.7" stroke="#acacac" stroke-width="0.47" fill="none" opacity="0.7"/>
<path d="M575.2,433.8 C569.1,445.2 558.6,453.0 552.7,464.7" stroke="#d4d4d4" stroke-width="0.74" fill="none" opacity="0.7"/>
<path d="M566.4,438.1 C554.9,447.0 545.7,457.8 539.8,471.3" stroke="#e8e8e8" stroke-width="0.60" fill="none" opacity="0.7"/>
<path d="M504.3,466.2 C495.6,473.9 489.9,484.0 483.0,493.2" stroke="#d4d4d4" stroke-width="0.94" fill="none" opacity="0.7"/>
<path d="M520.4,468.5 C514.0,475.4 507.7,482.4 499.9,488.1" stroke="#c0c0c0" stroke-width="0.74" fill="none" opacity="0.7"/>
<path d="M542.2,424.3 C535.8,431.4 527.9,437.4 522.3,445.2" stroke="#acacac" stroke-width="1.00" fill="none" opacity="0.7"/>
<path d="M512.6,466.8 C501.7,482.7 486.9,495.4 474.6,510.1" stroke="#9a9a9a" stroke-width="1.03" fill="none" opacity="0.7"/>
<path d="M548.5,402.9 C535.8,415.8 526.3,431.2 514.4,444.7" stroke="#8c8c8c" stroke-width="0.75" fill="none" opacity="0.7"/>
<path d="M488.0,473.2 C478.2,482.1 472.5,494.5 462.2,503.1" stroke="#d4d4d4" stroke-width="1.04" fill="none" opacity="0.7"/>
<path d="M538.6,427.4 C534.1,437.0 528.5,445.6 519.8,451.7" stroke="#d4d4d4" stroke-width="0.72" fill="none" opacity="0.7"/>
<path d="M526.8,490.4 C516.2,503.4 503.2,514.5 494.7,529.2" stroke="#d4d4d4" stroke-width="1.16" fill="none" opacity="0.7"/>
<path d="M550.1,396.7 C546.0,407.2 538.1,414.4 531.1,422.5" stroke="#9a9a9a" stroke-width="1.02" fill="none" opacity="0.7"/>
<path d="M592.0,406.8 C583.6,418.5 573.9,429.1 564.7,440.1" stroke="#8c8c8c" stroke-width="0.81" fill="none" opacity="0.7"/>
<path d="M573.7,413.0 C570.7,418.4 567.6,423.6 565.1,429.5" stroke="#acacac" stroke-width="1.11" fill="none" opacity="0.7"/>
<path d="M500.8,470.6 C487.4,485.2 472.5,498.4 462.9,516.1" stroke="#acacac" stroke-width="1.13" fill="none" opacity="0.7"/>
<path d="M581.0,382.1 C575.9,390.9 569.8,398.8 562.4,405.5" stroke="#8c8c8c" stroke-width="1.20" fill="none" opacity="0.7"/>
</g>
<path d="M494,355.3 L503.1,362.6 L510.4,370.8 L515.9,380 L521.2,389" stroke="#e4e4e4" stroke-width="2.4" fill="none" stroke-linecap="round" opacity="0.9"/>
<path d="M562,400.5 L568,399 L572,403.2 L567,407.5 L562,406 Z" fill="#e6e6e6"/>
<path d="M548,397 L556,394.5" stroke="#d8d8d8" stroke-width="1.6" fill="none" opacity="0.8"/>
<ellipse cx="500" cy="453" rx="4" ry="8" fill="#3c3c3c" opacity="0.8" transform="rotate(25 500 453)"/>
</g>
<rect x="551.5" y="484" width="20.4" height="3.1" fill="#fff"/>
<clipPath id="cc"><rect x="582.3" y="312.3" width="100.70000000000005" height="177.3"/></clipPath>
<linearGradient id="cbg" x1="0" y1="0" x2="1" y2="0"><stop offset="0" stop-color="#626262"/><stop offset="1" stop-color="#5c5c5c"/></linearGradient>
<linearGradient id="fv" x1="0" y1="0" x2="1" y2="0"><stop offset="0" stop-color="#c8c8c8"/><stop offset="0.1" stop-color="#d2d2d2"/><stop offset="0.25" stop-color="#a6a6a6"/><stop offset="0.5" stop-color="#a8a8a8"/><stop offset="0.8" stop-color="#959595"/><stop offset="1" stop-color="#7a7a7a"/></linearGradient>
<linearGradient id="lp1" x1="0" y1="0" x2="0.3" y2="1"><stop offset="0" stop-color="#d8d8d8"/><stop offset="0.5" stop-color="#c4c4c4"/><stop offset="1" stop-color="#a8a8a8"/></linearGradient>
<linearGradient id="lp2" x1="0" y1="0" x2="0.2" y2="1"><stop offset="0" stop-color="#d6d6d6"/><stop offset="0.4" stop-color="#c6c6c6"/><stop offset="0.85" stop-color="#b6b6b6"/><stop offset="1" stop-color="#c8c8c8"/></linearGradient>
<rect x="582.3" y="312.3" width="100.70000000000005" height="177.3" fill="url(#cbg)"/>
<g clip-path="url(#cc)">
<path d="M610.7,312 L636.7,312 L637.4,350 L638,380 L612,385 L611.3,350 Z" fill="url(#fv)"/>
<path d="M618,312 L618.5,370 M626,312 L626.5,365 M631,312 L631.5,360" stroke="#8c8c8c" stroke-width="0.7" fill="none"/>
<path d="M614.5,440 L640,440 L640.5,490 L614,490 Z" fill="url(#fv)"/>
<path d="M622,446 L621.5,490 M630,446 L630.5,490" stroke="#949494" stroke-width="0.6" fill="none"/>
<path d="M604.50,400.00 C604.92,398.00 605.88,391.52 607.00,388.00 C608.12,384.48 608.88,382.43 611.20,378.90 C613.52,375.37 616.43,371.05 620.90,366.80 C625.37,362.55 631.92,356.45 638.00,353.40 C644.08,350.35 651.73,348.50 657.40,348.50 C663.07,348.50 668.43,350.77 672.00,353.40 C675.57,356.03 677.78,360.05 678.80,364.30 C679.82,368.55 679.03,374.63 678.10,378.90 C677.17,383.17 675.43,386.85 673.20,389.90 C670.97,392.95 667.73,395.27 664.70,397.20 C661.67,399.13 656.82,402.12 655.00,401.50 C653.18,400.88 655.02,395.97 653.80,393.50 C652.58,391.03 650.75,387.83 647.70,386.70 C644.65,385.57 639.28,386.15 635.50,386.70 C631.72,387.25 627.58,387.78 625.00,390.00 C622.42,392.22 623.42,398.33 620.00,400.00 C616.58,401.67 607.08,400.00 604.50,400.00Z" fill="url(#lp1)"/>
<path d="M611,381 C622,366 645,354 662,353 C672,353 677,360 678.5,370" stroke="#d4d4d4" stroke-width="1.2" fill="none"/>
<path d="M610,386 C625,372 650,362 678,376" stroke="#8e8e8e" stroke-width="0.7" fill="none"/>
<path d="M612,390 C628,377 652,368 677,382" stroke="#a2a2a2" stroke-width="0.6" fill="none"/>
<path d="M623.00,389.50 C625.08,388.95 631.38,386.70 635.50,386.20 C639.62,385.70 644.65,385.28 647.70,386.50 C650.75,387.72 652.58,390.92 653.80,393.50 C655.02,396.08 655.63,399.08 655.00,402.00 C654.37,404.92 652.50,408.67 650.00,411.00 C647.50,413.33 643.33,415.17 640.00,416.00 C636.67,416.83 632.83,420.42 630.00,416.00 C627.17,411.58 624.17,393.92 623.00,389.50Z" fill="#7e7e7e"/>
<path d="M636,388 C646,389 652,395 654,404" stroke="#9a9a9a" stroke-width="2.2" fill="none"/>
<polygon points="585.8,424.5 587.5,415.5 591.1,409.3 596,403.5 601.8,400.2 606,399.5 606.3,417.7 620,419.2 635.2,417 647.4,410.9 651.5,405.5 653.5,404.8 655.5,412 655,420 651,436 642.8,445.8 627.6,453.4 615,454.2 604.8,451.9 591.1,444.3 586.5,434" fill="url(#lp2)" stroke="url(#lp2)" stroke-width="1" stroke-linejoin="round"/>
<linearGradient id="st" x1="0" y1="0" x2="1" y2="0"><stop offset="0" stop-color="#c4c4c4"/><stop offset="0.3" stop-color="#c6c6c6"/><stop offset="0.8" stop-color="#b0b0b0"/><stop offset="1" stop-color="#989898"/></linearGradient>
<path d="M604.8,396 C605,392 606,389 608,387 L621,386 C624,392 627,402 631,415.5 C626,418.5 622,419.3 620,419.2 C614,419 609,418.5 606.3,417.7 C604.8,410 604.6,402 604.8,396 Z" fill="url(#st)"/>
<path d="M623,389.5 C626,398 628,406 631,415" stroke="#4c4c4c" stroke-width="1.2" fill="none"/>
<path d="M606.3,418.2 C615,420.5 632,419.5 647.4,411.4" stroke="#d0d0d0" stroke-width="1.4" fill="none"/>
<path d="M587,430 C600,439 628,442 654,428" stroke="#7c7c7c" stroke-width="0.8" fill="none"/>
<path d="M588,434 C602,443 628,446 653,433" stroke="#9c9c9c" stroke-width="0.6" fill="none"/>
<path d="M586.5,422 C588,412 594,404 603,400.5" stroke="#d6d6d6" stroke-width="1.4" fill="none"/>
</g>
<rect x="658" y="484" width="21.8" height="2.9" fill="#fff"/>
</svg></body></html>
